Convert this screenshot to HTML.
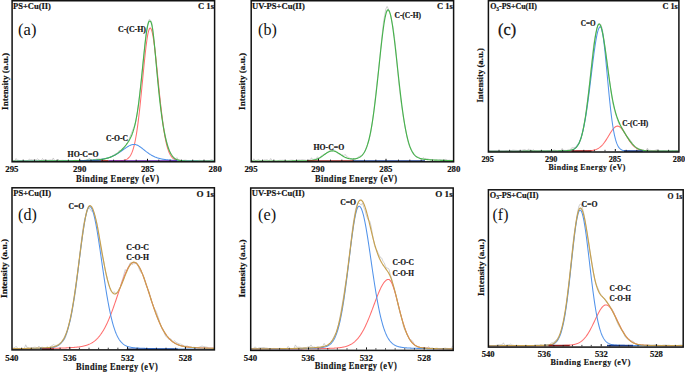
<!DOCTYPE html>
<html><head><meta charset="utf-8"><style>
html,body{margin:0;padding:0;background:#fff;overflow:hidden;width:685px;height:372px;}
svg{display:block;}
text{font-family:"Liberation Serif", serif;fill:#111;}
text[font-weight=bold]{stroke:#111;stroke-width:0.18px;}
</style></head><body>
<svg width="685" height="372" viewBox="0 0 685 372">
<rect width="685" height="372" fill="#fff"/>
<path d="M12.50,160.78 L13.70,160.75 L14.90,160.60 L16.10,158.50 L17.30,160.24 L18.50,160.27 L19.70,160.64 L20.90,160.80 L22.10,160.81 L23.30,160.73 L24.50,160.65 L25.70,160.81 L26.90,160.73 L28.10,160.55 L29.30,159.08 L30.50,159.74 L31.70,159.60 L32.90,160.08 L34.10,159.74 L35.30,159.59 L36.50,159.63 L37.70,158.76 L38.90,160.07 L40.10,160.40 L41.30,160.51 L42.50,158.52 L43.70,159.95 L44.90,159.88 L46.10,160.11 L47.30,160.30 L48.50,160.19 L49.70,159.99 L50.90,159.89 L52.10,160.25 L53.30,157.97 L54.50,160.49 L55.70,160.66 L56.90,160.53 L58.10,159.07 L59.30,160.52 L60.50,160.44 L61.70,160.34 L62.90,160.25 L64.10,160.44 L65.30,160.38 L66.50,160.57 L67.70,160.52 L68.90,160.32 L70.10,160.76 L71.30,160.88 L72.50,160.77 L73.70,160.61 L74.90,160.31 L76.10,160.28 L77.30,160.55 L78.50,160.52 L79.70,160.52 L80.90,160.77 L82.10,160.65 L83.30,160.56 L84.50,160.24 L85.70,160.00 L86.90,159.88 L88.10,159.64 L89.30,158.05 L90.50,159.75 L91.70,160.23 L92.90,160.16 L94.10,159.79 L95.30,159.49 L96.50,159.00 L97.70,158.94 L98.90,158.84 L100.10,158.99 L101.30,159.51 L102.50,159.44 L103.70,159.02 L104.90,158.37 L106.10,158.28 L107.30,158.14 L108.50,157.79 L109.70,157.32 L110.90,156.58 L112.10,156.14 L113.30,155.30 L114.50,154.44 L115.70,153.66 L116.90,153.30 L118.10,153.07 L119.30,150.35 L120.50,151.43 L121.70,149.89 L122.90,148.77 L124.10,147.54 L125.30,146.17 L126.50,144.26 L127.70,142.12 L128.90,139.60 L130.10,136.39 L131.30,133.73 L132.50,130.43 L133.70,127.65 L134.90,124.99 L136.10,119.89 L137.30,113.00 L138.50,104.16 L139.70,93.95 L140.90,83.85 L142.10,72.35 L143.30,60.46 L144.50,49.14 L145.70,36.90 L146.90,29.29 L148.10,22.74 L149.30,19.33 L150.50,20.17 L151.70,22.53 L152.90,30.27 L154.10,41.65 L155.30,54.17 L156.50,67.17 L157.70,79.29 L158.90,90.29 L160.10,100.48 L161.30,110.63 L162.50,118.90 L163.70,127.34 L164.90,133.53 L166.10,139.11 L167.30,144.00 L168.50,147.81 L169.70,151.34 L170.90,153.22 L172.10,155.34 L173.30,157.06 L174.50,158.41 L175.70,159.32 L176.90,157.60 L178.10,159.44 L179.30,159.90 L180.50,160.18 L181.70,160.39 L182.90,160.43 L184.10,160.22 L185.30,160.12 L186.50,160.32 L187.70,160.59 L188.90,160.92 L190.10,161.11 L191.30,160.84 L192.50,160.71 L193.70,160.47 L194.90,160.49 L196.10,160.57 L197.30,160.59 L198.50,160.46 L199.70,160.28 L200.90,160.53 L202.10,160.70 L203.30,160.76 L204.50,160.73 L205.70,160.77 L206.90,160.84 L208.10,160.84 L209.30,160.59 L210.50,160.21 L211.70,159.00 L212.90,160.54" fill="none" stroke="#c4c4c4" stroke-width="0.8" stroke-linejoin="round"/>
<path d="M251.50,160.72 L252.70,160.81 L253.90,158.75 L255.10,160.53 L256.30,160.35 L257.50,159.97 L258.70,159.31 L259.90,160.74 L261.10,161.07 L262.30,160.94 L263.50,160.25 L264.70,159.92 L265.90,160.02 L267.10,159.71 L268.30,160.62 L269.50,160.49 L270.70,158.49 L271.90,160.40 L273.10,160.72 L274.30,161.20 L275.50,161.20 L276.70,161.20 L277.90,160.78 L279.10,160.36 L280.30,160.27 L281.50,160.32 L282.70,160.20 L283.90,160.37 L285.10,160.54 L286.30,160.66 L287.50,160.78 L288.70,160.53 L289.90,160.30 L291.10,160.14 L292.30,160.11 L293.50,160.31 L294.70,160.50 L295.90,160.35 L297.10,160.31 L298.30,160.03 L299.50,159.91 L300.70,160.03 L301.90,159.73 L303.10,159.83 L304.30,159.98 L305.50,160.18 L306.70,160.42 L307.90,160.23 L309.10,159.93 L310.30,159.75 L311.50,157.74 L312.70,159.54 L313.90,159.29 L315.10,159.02 L316.30,158.80 L317.50,156.75 L318.70,158.00 L319.90,157.35 L321.10,156.22 L322.30,155.39 L323.50,154.68 L324.70,153.99 L325.90,153.71 L327.10,152.59 L328.30,151.58 L329.50,151.03 L330.70,150.87 L331.90,151.08 L333.10,150.62 L334.30,149.92 L335.50,151.21 L336.70,152.46 L337.90,153.76 L339.10,153.73 L340.30,154.09 L341.50,154.67 L342.70,154.88 L343.90,155.66 L345.10,154.36 L346.30,156.14 L347.50,156.85 L348.70,157.51 L349.90,158.31 L351.10,158.83 L352.30,159.31 L353.50,158.54 L354.70,159.72 L355.90,159.19 L357.10,157.96 L358.30,156.82 L359.50,156.28 L360.70,155.86 L361.90,155.33 L363.10,154.42 L364.30,152.37 L365.50,149.79 L366.70,146.91 L367.90,143.40 L369.10,139.85 L370.30,134.83 L371.50,128.01 L372.70,120.20 L373.90,110.66 L375.10,99.82 L376.30,89.37 L377.50,78.58 L378.70,68.62 L379.90,57.05 L381.10,44.56 L382.30,33.40 L383.50,22.14 L384.70,15.21 L385.90,8.86 L387.10,6.44 L388.30,8.73 L389.50,12.20 L390.70,15.30 L391.90,21.79 L393.10,27.73 L394.30,36.39 L395.50,46.84 L396.70,58.92 L397.90,73.38 L399.10,85.38 L400.30,95.69 L401.50,104.73 L402.70,112.90 L403.90,120.21 L405.10,126.97 L406.30,133.25 L407.50,139.31 L408.70,144.18 L409.90,147.51 L411.10,149.79 L412.30,151.96 L413.50,154.03 L414.70,155.84 L415.90,156.60 L417.10,156.90 L418.30,157.30 L419.50,157.72 L420.70,158.70 L421.90,158.82 L423.10,157.61 L424.30,158.49 L425.50,158.48 L426.70,158.63 L427.90,158.97 L429.10,159.28 L430.30,159.81 L431.50,160.05 L432.70,160.01 L433.90,159.97 L435.10,160.17 L436.30,160.14 L437.50,159.74 L438.70,159.68 L439.90,159.47 L441.10,159.84 L442.30,160.15 L443.50,160.05 L444.70,160.08 L445.90,159.14 L447.10,160.11 L448.30,160.27 L449.50,160.17 L450.70,160.36 L451.90,160.39" fill="none" stroke="#c4c4c4" stroke-width="0.8" stroke-linejoin="round"/>
<path d="M489.00,150.84 L490.20,150.92 L491.40,150.93 L492.60,151.02 L493.80,150.99 L495.00,150.86 L496.20,150.96 L497.40,150.92 L498.60,151.26 L499.80,151.30 L501.00,151.30 L502.20,151.30 L503.40,151.30 L504.60,151.19 L505.80,150.91 L507.00,150.86 L508.20,150.98 L509.40,150.97 L510.60,150.63 L511.80,150.45 L513.00,150.14 L514.20,150.20 L515.40,150.39 L516.60,150.42 L517.80,150.62 L519.00,150.64 L520.20,150.61 L521.40,150.37 L522.60,150.10 L523.80,149.80 L525.00,149.84 L526.20,150.32 L527.40,150.57 L528.60,148.87 L529.80,150.82 L531.00,150.60 L532.20,150.68 L533.40,149.57 L534.60,150.90 L535.80,151.17 L537.00,151.30 L538.20,151.30 L539.40,151.02 L540.60,150.75 L541.80,150.71 L543.00,150.86 L544.20,151.01 L545.40,151.19 L546.60,150.99 L547.80,150.67 L549.00,150.64 L550.20,150.53 L551.40,150.69 L552.60,150.56 L553.80,150.20 L555.00,150.21 L556.20,150.72 L557.40,151.22 L558.60,151.30 L559.80,150.88 L561.00,150.24 L562.20,148.40 L563.40,150.41 L564.60,150.36 L565.80,150.38 L567.00,150.43 L568.20,149.66 L569.40,150.22 L570.60,149.42 L571.80,147.74 L573.00,147.94 L574.20,147.59 L575.40,147.03 L576.60,146.26 L577.80,143.82 L579.00,143.95 L580.20,141.15 L581.40,137.24 L582.60,132.42 L583.80,124.65 L585.00,119.57 L586.20,110.81 L587.40,100.66 L588.60,91.65 L589.80,80.71 L591.00,68.97 L592.20,58.11 L593.40,47.39 L594.60,38.85 L595.80,33.51 L597.00,28.09 L598.20,23.73 L599.40,23.49 L600.60,24.21 L601.80,27.25 L603.00,32.73 L604.20,41.53 L605.40,49.50 L606.60,58.11 L607.80,67.33 L609.00,76.74 L610.20,85.44 L611.40,93.98 L612.60,101.77 L613.80,107.31 L615.00,111.80 L616.20,115.67 L617.40,119.35 L618.60,123.16 L619.80,125.20 L621.00,126.28 L622.20,128.01 L623.40,129.86 L624.60,132.21 L625.80,134.37 L627.00,136.22 L628.20,137.66 L629.40,139.06 L630.60,140.63 L631.80,142.28 L633.00,144.22 L634.20,145.76 L635.40,147.18 L636.60,148.09 L637.80,148.59 L639.00,149.03 L640.20,149.29 L641.40,149.71 L642.60,149.88 L643.80,150.29 L645.00,150.56 L646.20,150.52 L647.40,148.15 L648.60,150.25 L649.80,150.32 L651.00,150.42 L652.20,150.69 L653.40,150.77 L654.60,150.41 L655.80,150.17 L657.00,149.72 L658.20,149.86 L659.40,150.41 L660.60,150.85 L661.80,151.01 L663.00,150.73 L664.20,150.74 L665.40,150.92 L666.60,151.20 L667.80,151.30 L669.00,151.30 L670.20,151.30 L671.40,151.30 L672.60,150.59 L673.80,151.26 L675.00,151.03 L676.20,150.79 L677.40,150.62" fill="none" stroke="#c4c4c4" stroke-width="0.8" stroke-linejoin="round"/>
<path d="M12.50,348.32 L13.70,347.96 L14.90,347.63 L16.10,346.30 L17.30,347.92 L18.50,348.66 L19.70,348.38 L20.90,349.30 L22.10,349.23 L23.30,348.88 L24.50,348.11 L25.70,344.77 L26.90,347.34 L28.10,347.42 L29.30,348.04 L30.50,348.21 L31.70,347.69 L32.90,347.61 L34.10,347.27 L35.30,347.19 L36.50,347.59 L37.70,347.97 L38.90,346.06 L40.10,347.74 L41.30,347.36 L42.50,347.22 L43.70,347.69 L44.90,348.68 L46.10,349.14 L47.30,346.57 L48.50,348.27 L49.70,347.04 L50.90,346.28 L52.10,345.70 L53.30,344.60 L54.50,345.22 L55.70,345.40 L56.90,345.25 L58.10,344.67 L59.30,343.40 L60.50,342.50 L61.70,341.83 L62.90,341.31 L64.10,340.21 L65.30,337.82 L66.50,334.48 L67.70,330.15 L68.90,325.54 L70.10,321.18 L71.30,315.83 L72.50,309.62 L73.70,302.00 L74.90,295.42 L76.10,286.87 L77.30,276.57 L78.50,266.83 L79.70,255.73 L80.90,244.60 L82.10,235.17 L83.30,226.40 L84.50,220.22 L85.70,215.47 L86.90,210.01 L88.10,208.03 L89.30,208.20 L90.50,209.76 L91.70,211.36 L92.90,210.67 L94.10,213.00 L95.30,217.54 L96.50,221.68 L97.70,227.32 L98.90,236.23 L100.10,242.96 L101.30,251.08 L102.50,256.64 L103.70,261.54 L104.90,268.52 L106.10,274.40 L107.30,278.95 L108.50,284.17 L109.70,287.67 L110.90,291.00 L112.10,292.34 L113.30,292.34 L114.50,291.81 L115.70,294.07 L116.90,293.57 L118.10,291.23 L119.30,288.44 L120.50,286.55 L121.70,281.55 L122.90,278.26 L124.10,273.79 L125.30,269.57 L126.50,271.26 L127.70,268.11 L128.90,265.97 L130.10,262.98 L131.30,262.81 L132.50,264.68 L133.70,263.42 L134.90,263.83 L136.10,262.20 L137.30,264.05 L138.50,267.12 L139.70,270.34 L140.90,272.32 L142.10,273.57 L143.30,275.32 L144.50,279.92 L145.70,284.15 L146.90,287.17 L148.10,289.76 L149.30,292.44 L150.50,297.32 L151.70,302.11 L152.90,304.45 L154.10,307.90 L155.30,309.89 L156.50,312.17 L157.70,315.83 L158.90,319.24 L160.10,323.40 L161.30,327.20 L162.50,329.87 L163.70,331.28 L164.90,334.78 L166.10,336.58 L167.30,337.81 L168.50,338.97 L169.70,339.50 L170.90,338.77 L172.10,341.03 L173.30,341.52 L174.50,340.60 L175.70,342.15 L176.90,342.65 L178.10,343.40 L179.30,343.93 L180.50,344.06 L181.70,344.51 L182.90,345.24 L184.10,345.73 L185.30,346.09 L186.50,346.01 L187.70,346.07 L188.90,346.81 L190.10,346.91 L191.30,347.16 L192.50,347.37 L193.70,347.22 L194.90,347.43 L196.10,347.51 L197.30,347.65 L198.50,347.40 L199.70,346.98 L200.90,346.45 L202.10,346.09 L203.30,346.47 L204.50,346.53 L205.70,346.96 L206.90,347.20 L208.10,347.49 L209.30,347.82 L210.50,347.76 L211.70,347.94 L212.90,347.90" fill="none" stroke="#c4c4c4" stroke-width="0.8" stroke-linejoin="round"/>
<path d="M251.00,348.81 L252.20,348.51 L253.40,348.63 L254.60,347.06 L255.80,347.22 L257.00,348.92 L258.20,348.13 L259.40,347.70 L260.60,347.58 L261.80,347.73 L263.00,347.63 L264.20,347.49 L265.40,347.91 L266.60,347.99 L267.80,348.31 L269.00,348.61 L270.20,348.73 L271.40,348.90 L272.60,348.80 L273.80,348.36 L275.00,348.51 L276.20,348.92 L277.40,348.82 L278.60,348.66 L279.80,348.33 L281.00,348.48 L282.20,349.22 L283.40,349.30 L284.60,349.30 L285.80,349.02 L287.00,348.08 L288.20,346.44 L289.40,347.88 L290.60,348.71 L291.80,348.57 L293.00,348.72 L294.20,347.90 L295.40,344.92 L296.60,347.04 L297.80,347.24 L299.00,347.16 L300.20,347.29 L301.40,347.68 L302.60,347.66 L303.80,347.76 L305.00,347.61 L306.20,347.52 L307.40,347.17 L308.60,346.60 L309.80,346.81 L311.00,344.91 L312.20,346.89 L313.40,347.12 L314.60,347.08 L315.80,347.46 L317.00,347.01 L318.20,346.95 L319.40,347.39 L320.60,347.55 L321.80,347.02 L323.00,345.66 L324.20,343.41 L325.40,345.57 L326.60,346.18 L327.80,345.32 L329.00,344.85 L330.20,343.01 L331.40,341.34 L332.60,339.49 L333.80,337.19 L335.00,334.83 L336.20,332.53 L337.40,328.86 L338.60,324.13 L339.80,318.02 L341.00,311.46 L342.20,304.27 L343.40,297.41 L344.60,289.71 L345.80,282.12 L347.00,276.07 L348.20,266.99 L349.40,256.95 L350.60,246.68 L351.80,234.46 L353.00,224.67 L354.20,217.39 L355.40,210.56 L356.60,205.71 L357.80,203.05 L359.00,203.00 L360.20,204.18 L361.40,204.95 L362.60,202.98 L363.80,207.44 L365.00,210.12 L366.20,215.00 L367.40,218.05 L368.60,220.59 L369.80,221.11 L371.00,225.93 L372.20,232.34 L373.40,239.65 L374.60,245.63 L375.80,248.70 L377.00,250.36 L378.20,253.31 L379.40,255.44 L380.60,257.67 L381.80,258.12 L383.00,261.50 L384.20,262.68 L385.40,266.14 L386.60,268.11 L387.80,268.25 L389.00,269.09 L390.20,274.55 L391.40,277.60 L392.60,284.77 L393.80,287.93 L395.00,291.85 L396.20,295.63 L397.40,301.80 L398.60,307.27 L399.80,311.97 L401.00,315.97 L402.20,320.11 L403.40,325.93 L404.60,329.65 L405.80,331.37 L407.00,334.21 L408.20,336.65 L409.40,339.09 L410.60,339.95 L411.80,340.25 L413.00,341.78 L414.20,344.12 L415.40,345.89 L416.60,346.53 L417.80,346.96 L419.00,347.39 L420.20,348.00 L421.40,348.42 L422.60,348.51 L423.80,348.23 L425.00,348.21 L426.20,347.99 L427.40,347.76 L428.60,346.74 L429.80,347.92 L431.00,348.20 L432.20,347.75 L433.40,348.70 L434.60,348.73 L435.80,348.22 L437.00,348.12 L438.20,348.49 L439.40,348.88 L440.60,349.16 L441.80,348.97 L443.00,348.78 L444.20,348.28 L445.40,348.13 L446.60,348.38 L447.80,348.44 L449.00,348.94 L450.20,349.05 L451.40,348.52 L452.60,345.76" fill="none" stroke="#c4c4c4" stroke-width="0.8" stroke-linejoin="round"/>
<path d="M489.00,345.67 L490.20,345.74 L491.40,345.74 L492.60,345.64 L493.80,345.80 L495.00,345.69 L496.20,345.43 L497.40,345.10 L498.60,344.81 L499.80,344.90 L501.00,344.81 L502.20,344.72 L503.40,342.79 L504.60,345.02 L505.80,345.40 L507.00,345.24 L508.20,344.86 L509.40,344.68 L510.60,344.09 L511.80,345.00 L513.00,345.28 L514.20,345.43 L515.40,345.47 L516.60,345.49 L517.80,345.45 L519.00,345.43 L520.20,345.57 L521.40,345.68 L522.60,345.66 L523.80,345.66 L525.00,345.51 L526.20,345.63 L527.40,345.80 L528.60,345.80 L529.80,345.80 L531.00,345.76 L532.20,345.78 L533.40,345.73 L534.60,345.19 L535.80,345.10 L537.00,345.00 L538.20,344.98 L539.40,345.07 L540.60,344.62 L541.80,344.98 L543.00,345.46 L544.20,345.29 L545.40,345.16 L546.60,344.62 L547.80,344.89 L549.00,344.98 L550.20,344.13 L551.40,342.80 L552.60,342.58 L553.80,342.25 L555.00,341.28 L556.20,339.85 L557.40,338.83 L558.60,336.76 L559.80,334.64 L561.00,330.65 L562.20,326.73 L563.40,322.62 L564.60,315.91 L565.80,308.72 L567.00,299.49 L568.20,289.69 L569.40,279.51 L570.60,267.78 L571.80,255.22 L573.00,243.40 L574.20,233.94 L575.40,226.53 L576.60,218.13 L577.80,210.98 L579.00,206.03 L580.20,204.01 L581.40,204.43 L582.60,208.57 L583.80,213.37 L585.00,221.00 L586.20,228.14 L587.40,235.66 L588.60,242.26 L589.80,250.20 L591.00,256.92 L592.20,264.69 L593.40,272.68 L594.60,278.85 L595.80,283.25 L597.00,286.23 L598.20,288.77 L599.40,291.78 L600.60,294.47 L601.80,295.56 L603.00,297.28 L604.20,298.76 L605.40,300.25 L606.60,302.47 L607.80,303.62 L609.00,304.97 L610.20,306.91 L611.40,308.18 L612.60,310.27 L613.80,312.60 L615.00,315.87 L616.20,319.83 L617.40,322.74 L618.60,325.54 L619.80,327.28 L621.00,329.15 L622.20,330.79 L623.40,331.19 L624.60,335.80 L625.80,337.61 L627.00,338.37 L628.20,339.41 L629.40,339.13 L630.60,340.81 L631.80,340.97 L633.00,341.30 L634.20,342.36 L635.40,343.53 L636.60,344.76 L637.80,345.20 L639.00,344.69 L640.20,345.42 L641.40,345.14 L642.60,344.79 L643.80,344.97 L645.00,345.11 L646.20,345.13 L647.40,345.09 L648.60,344.90 L649.80,344.82 L651.00,345.05 L652.20,345.00 L653.40,344.81 L654.60,344.60 L655.80,344.79 L657.00,344.90 L658.20,345.18 L659.40,345.36 L660.60,345.35 L661.80,345.45 L663.00,345.21 L664.20,345.05 L665.40,345.20 L666.60,345.40 L667.80,345.20 L669.00,345.19 L670.20,345.38 L671.40,345.74 L672.60,345.79 L673.80,345.55 L675.00,345.39 L676.20,345.54 L677.40,345.47 L678.60,345.31 L679.80,345.21 L681.00,344.99 L682.20,345.10" fill="none" stroke="#c4c4c4" stroke-width="0.8" stroke-linejoin="round"/>
<path d="M12.50,161.27 L13.00,161.27 L13.50,161.27 L14.00,161.27 L14.50,161.27 L15.00,161.27 L15.50,161.27 L16.00,161.27 L16.50,161.27 L17.00,161.27 L17.50,161.27 L18.00,161.27 L18.50,161.27 L19.00,161.27 L19.50,161.27 L20.00,161.27 L20.50,161.27 L21.00,161.27 L21.50,161.27 L22.00,161.27 L22.50,161.27 L23.00,161.27 L23.50,161.27 L24.00,161.27 L24.50,161.27 L25.00,161.27 L25.50,161.27 L26.00,161.26 L26.50,161.26 L27.00,161.26 L27.50,161.26 L28.00,161.26 L28.50,161.26 L29.00,161.26 L29.50,161.26 L30.00,161.26 L30.50,161.26 L31.00,161.26 L31.50,161.26 L32.00,161.26 L32.50,161.26 L33.00,161.26 L33.50,161.26 L34.00,161.26 L34.50,161.26 L35.00,161.26 L35.50,161.26 L36.00,161.26 L36.50,161.26 L37.00,161.26 L37.50,161.26 L38.00,161.26 L38.50,161.26 L39.00,161.26 L39.50,161.26 L40.00,161.26 L40.50,161.26 L41.00,161.25 L41.50,161.25 L42.00,161.25 L42.50,161.25 L43.00,161.25 L43.50,161.25 L44.00,161.25 L44.50,161.25 L45.00,161.25 L45.50,161.25 L46.00,161.25 L46.50,161.25 L47.00,161.25 L47.50,161.25 L48.00,161.25 L48.50,161.25 L49.00,161.25 L49.50,161.25 L50.00,161.25 L50.50,161.25 L51.00,161.25 L51.50,161.24 L52.00,161.24 L52.50,161.24 L53.00,161.24 L53.50,161.24 L54.00,161.24 L54.50,161.24 L55.00,161.24 L55.50,161.24 L56.00,161.24 L56.50,161.24 L57.00,161.24 L57.50,161.24 L58.00,161.24 L58.50,161.24 L59.00,161.24 L59.50,161.23 L60.00,161.23 L60.50,161.23 L61.00,161.23 L61.50,161.23 L62.00,161.23 L62.50,161.23 L63.00,161.23 L63.50,161.23 L64.00,161.23 L64.50,161.23 L65.00,161.23 L65.50,161.23 L66.00,161.22 L66.50,161.22 L67.00,161.22 L67.50,161.22 L68.00,161.22 L68.50,161.22 L69.00,161.22 L69.50,161.22 L70.00,161.22 L70.50,161.22 L71.00,161.21 L71.50,161.21 L72.00,161.21 L72.50,161.21 L73.00,161.21 L73.50,161.21 L74.00,161.21 L74.50,161.21 L75.00,161.21 L75.50,161.20 L76.00,161.20 L76.50,161.20 L77.00,161.20 L77.50,161.20 L78.00,161.20 L78.50,161.20 L79.00,161.19 L79.50,161.19 L80.00,161.19 L80.50,161.19 L81.00,161.19 L81.50,161.19 L82.00,161.19 L82.50,161.18 L83.00,161.18 L83.50,161.18 L84.00,161.18 L84.50,161.18 L85.00,161.17 L85.50,161.17 L86.00,161.17 L86.50,161.17 L87.00,161.17 L87.50,161.16 L88.00,161.16 L88.50,161.16 L89.00,161.16 L89.50,161.16 L90.00,161.15 L90.50,161.15 L91.00,161.15 L91.50,161.15 L92.00,161.14 L92.50,161.14 L93.00,161.14 L93.50,161.14 L94.00,161.13 L94.50,161.13 L95.00,161.13 L95.50,161.12 L96.00,161.12 L96.50,161.12 L97.00,161.11 L97.50,161.11 L98.00,161.11 L98.50,161.10 L99.00,161.10 L99.50,161.10 L100.00,161.09 L100.50,161.09 L101.00,161.08 L101.50,161.08 L102.00,161.07 L102.50,161.07 L103.00,161.06 L103.50,161.06 L104.00,161.05 L104.50,161.05 L105.00,161.04 L105.50,161.04 L106.00,161.03 L106.50,161.03 L107.00,161.02 L107.50,161.01 L108.00,161.01 L108.50,161.00 L109.00,160.99 L109.50,160.99 L110.00,160.98 L110.50,160.97 L111.00,160.96 L111.50,160.96 L112.00,160.95 L112.50,160.94 L113.00,160.93 L113.50,160.92 L114.00,160.91 L114.50,160.90 L115.00,160.88 L115.50,160.87 L116.00,160.86 L116.50,160.85 L117.00,160.83 L117.50,160.81 L118.00,160.79 L118.50,160.77 L119.00,160.75 L119.50,160.73 L120.00,160.70 L120.50,160.67 L121.00,160.63 L121.50,160.58 L122.00,160.53 L122.50,160.47 L123.00,160.40 L123.50,160.32 L124.00,160.22 L124.50,160.10 L125.00,159.97 L125.50,159.80 L126.00,159.61 L126.50,159.38 L127.00,159.11 L127.50,158.80 L128.00,158.43 L128.50,158.00 L129.00,157.49 L129.50,156.91 L130.00,156.23 L130.50,155.45 L131.00,154.56 L131.50,153.54 L132.00,152.38 L132.50,151.07 L133.00,149.59 L133.50,147.93 L134.00,146.08 L134.50,144.03 L135.00,141.75 L135.50,139.25 L136.00,136.52 L136.50,133.54 L137.00,130.32 L137.50,126.86 L138.00,123.14 L138.50,119.19 L139.00,115.01 L139.50,110.60 L140.00,106.00 L140.50,101.22 L141.00,96.28 L141.50,91.22 L142.00,86.06 L142.50,80.86 L143.00,75.64 L143.50,70.46 L144.00,65.36 L144.50,60.39 L145.00,55.60 L145.50,51.05 L146.00,46.77 L146.50,42.83 L147.00,39.27 L147.50,36.14 L148.00,33.47 L148.50,31.30 L149.00,29.67 L149.50,28.59 L150.00,28.08 L150.50,28.14 L151.00,28.74 L151.50,29.87 L152.00,31.50 L152.50,33.63 L153.00,36.22 L153.50,39.25 L154.00,42.66 L154.50,46.44 L155.00,50.52 L155.50,54.87 L156.00,59.45 L156.50,64.20 L157.00,69.08 L157.50,74.06 L158.00,79.07 L158.50,84.09 L159.00,89.07 L159.50,93.99 L160.00,98.80 L160.50,103.49 L161.00,108.02 L161.50,112.37 L162.00,116.53 L162.50,120.49 L163.00,124.22 L163.50,127.73 L164.00,131.02 L164.50,134.07 L165.00,136.90 L165.50,139.51 L166.00,141.90 L166.50,144.07 L167.00,146.05 L167.50,147.84 L168.00,149.45 L168.50,150.89 L169.00,152.18 L169.50,153.32 L170.00,154.33 L170.50,155.22 L171.00,156.00 L171.50,156.68 L172.00,157.27 L172.50,157.79 L173.00,158.24 L173.50,158.62 L174.00,158.95 L174.50,159.23 L175.00,159.47 L175.50,159.68 L176.00,159.86 L176.50,160.01 L177.00,160.13 L177.50,160.24 L178.00,160.33 L178.50,160.41 L179.00,160.48 L179.50,160.54 L180.00,160.58 L180.50,160.63 L181.00,160.66 L181.50,160.70 L182.00,160.72 L182.50,160.75 L183.00,160.77 L183.50,160.79 L184.00,160.81 L184.50,160.82 L185.00,160.84 L185.50,160.85 L186.00,160.87 L186.50,160.88 L187.00,160.89 L187.50,160.90 L188.00,160.91 L188.50,160.92 L189.00,160.93 L189.50,160.94 L190.00,160.95 L190.50,160.96 L191.00,160.97 L191.50,160.97 L192.00,160.98 L192.50,160.99 L193.00,160.99 L193.50,161.00 L194.00,161.01 L194.50,161.01 L195.00,161.02 L195.50,161.03 L196.00,161.03 L196.50,161.04 L197.00,161.04 L197.50,161.05 L198.00,161.05 L198.50,161.06 L199.00,161.06 L199.50,161.07 L200.00,161.07 L200.50,161.08 L201.00,161.08 L201.50,161.08 L202.00,161.09 L202.50,161.09 L203.00,161.10 L203.50,161.10 L204.00,161.10 L204.50,161.11 L205.00,161.11 L205.50,161.11 L206.00,161.12 L206.50,161.12 L207.00,161.12 L207.50,161.13 L208.00,161.13 L208.50,161.13 L209.00,161.13 L209.50,161.14 L210.00,161.14 L210.50,161.14 L211.00,161.15 L211.50,161.15 L212.00,161.15 L212.50,161.15 L213.00,161.15 L213.50,161.16 L214.00,161.16" fill="none" stroke="#ff6e6e" stroke-width="1.05" stroke-linejoin="round"/>
<path d="M12.50,161.16 L13.00,161.16 L13.50,161.15 L14.00,161.15 L14.50,161.15 L15.00,161.15 L15.50,161.15 L16.00,161.15 L16.50,161.15 L17.00,161.15 L17.50,161.14 L18.00,161.14 L18.50,161.14 L19.00,161.14 L19.50,161.14 L20.00,161.14 L20.50,161.14 L21.00,161.13 L21.50,161.13 L22.00,161.13 L22.50,161.13 L23.00,161.13 L23.50,161.13 L24.00,161.13 L24.50,161.12 L25.00,161.12 L25.50,161.12 L26.00,161.12 L26.50,161.12 L27.00,161.12 L27.50,161.11 L28.00,161.11 L28.50,161.11 L29.00,161.11 L29.50,161.11 L30.00,161.11 L30.50,161.10 L31.00,161.10 L31.50,161.10 L32.00,161.10 L32.50,161.10 L33.00,161.09 L33.50,161.09 L34.00,161.09 L34.50,161.09 L35.00,161.09 L35.50,161.08 L36.00,161.08 L36.50,161.08 L37.00,161.08 L37.50,161.08 L38.00,161.07 L38.50,161.07 L39.00,161.07 L39.50,161.07 L40.00,161.06 L40.50,161.06 L41.00,161.06 L41.50,161.06 L42.00,161.05 L42.50,161.05 L43.00,161.05 L43.50,161.05 L44.00,161.04 L44.50,161.04 L45.00,161.04 L45.50,161.03 L46.00,161.03 L46.50,161.03 L47.00,161.02 L47.50,161.02 L48.00,161.02 L48.50,161.02 L49.00,161.01 L49.50,161.01 L50.00,161.01 L50.50,161.00 L51.00,161.00 L51.50,161.00 L52.00,160.99 L52.50,160.99 L53.00,160.98 L53.50,160.98 L54.00,160.98 L54.50,160.97 L55.00,160.97 L55.50,160.96 L56.00,160.96 L56.50,160.96 L57.00,160.95 L57.50,160.95 L58.00,160.94 L58.50,160.94 L59.00,160.93 L59.50,160.93 L60.00,160.92 L60.50,160.92 L61.00,160.91 L61.50,160.91 L62.00,160.90 L62.50,160.90 L63.00,160.89 L63.50,160.89 L64.00,160.88 L64.50,160.88 L65.00,160.87 L65.50,160.86 L66.00,160.86 L66.50,160.85 L67.00,160.85 L67.50,160.84 L68.00,160.83 L68.50,160.83 L69.00,160.82 L69.50,160.81 L70.00,160.80 L70.50,160.80 L71.00,160.79 L71.50,160.78 L72.00,160.77 L72.50,160.77 L73.00,160.76 L73.50,160.75 L74.00,160.74 L74.50,160.73 L75.00,160.72 L75.50,160.71 L76.00,160.70 L76.50,160.69 L77.00,160.68 L77.50,160.67 L78.00,160.66 L78.50,160.65 L79.00,160.64 L79.50,160.63 L80.00,160.62 L80.50,160.61 L81.00,160.59 L81.50,160.58 L82.00,160.57 L82.50,160.55 L83.00,160.54 L83.50,160.53 L84.00,160.51 L84.50,160.50 L85.00,160.48 L85.50,160.46 L86.00,160.45 L86.50,160.43 L87.00,160.41 L87.50,160.39 L88.00,160.37 L88.50,160.35 L89.00,160.33 L89.50,160.31 L90.00,160.29 L90.50,160.26 L91.00,160.24 L91.50,160.21 L92.00,160.18 L92.50,160.16 L93.00,160.13 L93.50,160.10 L94.00,160.06 L94.50,160.03 L95.00,159.99 L95.50,159.95 L96.00,159.91 L96.50,159.87 L97.00,159.83 L97.50,159.78 L98.00,159.73 L98.50,159.68 L99.00,159.62 L99.50,159.56 L100.00,159.50 L100.50,159.44 L101.00,159.37 L101.50,159.30 L102.00,159.22 L102.50,159.14 L103.00,159.05 L103.50,158.96 L104.00,158.87 L104.50,158.77 L105.00,158.66 L105.50,158.55 L106.00,158.43 L106.50,158.31 L107.00,158.18 L107.50,158.04 L108.00,157.89 L108.50,157.74 L109.00,157.59 L109.50,157.42 L110.00,157.24 L110.50,157.06 L111.00,156.87 L111.50,156.67 L112.00,156.47 L112.50,156.25 L113.00,156.03 L113.50,155.80 L114.00,155.55 L114.50,155.30 L115.00,155.05 L115.50,154.78 L116.00,154.50 L116.50,154.22 L117.00,153.92 L117.50,153.62 L118.00,153.31 L118.50,153.00 L119.00,152.67 L119.50,152.34 L120.00,152.01 L120.50,151.66 L121.00,151.32 L121.50,150.97 L122.00,150.61 L122.50,150.25 L123.00,149.89 L123.50,149.53 L124.00,149.17 L124.50,148.81 L125.00,148.46 L125.50,148.10 L126.00,147.76 L126.50,147.42 L127.00,147.09 L127.50,146.77 L128.00,146.47 L128.50,146.18 L129.00,145.90 L129.50,145.64 L130.00,145.41 L130.50,145.20 L131.00,145.01 L131.50,144.84 L132.00,144.71 L132.50,144.60 L133.00,144.52 L133.50,144.47 L134.00,144.45 L134.50,144.46 L135.00,144.52 L135.50,144.60 L136.00,144.73 L136.50,144.89 L137.00,145.08 L137.50,145.30 L138.00,145.55 L138.50,145.83 L139.00,146.13 L139.50,146.45 L140.00,146.79 L140.50,147.14 L141.00,147.51 L141.50,147.89 L142.00,148.28 L142.50,148.67 L143.00,149.07 L143.50,149.46 L144.00,149.86 L144.50,150.26 L145.00,150.66 L145.50,151.05 L146.00,151.44 L146.50,151.83 L147.00,152.20 L147.50,152.57 L148.00,152.93 L148.50,153.28 L149.00,153.63 L149.50,153.96 L150.00,154.28 L150.50,154.60 L151.00,154.90 L151.50,155.19 L152.00,155.47 L152.50,155.74 L153.00,156.00 L153.50,156.25 L154.00,156.49 L154.50,156.72 L155.00,156.94 L155.50,157.14 L156.00,157.34 L156.50,157.53 L157.00,157.71 L157.50,157.88 L158.00,158.04 L158.50,158.19 L159.00,158.33 L159.50,158.47 L160.00,158.60 L160.50,158.72 L161.00,158.83 L161.50,158.94 L162.00,159.04 L162.50,159.14 L163.00,159.22 L163.50,159.31 L164.00,159.39 L164.50,159.46 L165.00,159.53 L165.50,159.60 L166.00,159.66 L166.50,159.72 L167.00,159.78 L167.50,159.83 L168.00,159.88 L168.50,159.92 L169.00,159.97 L169.50,160.01 L170.00,160.05 L170.50,160.09 L171.00,160.12 L171.50,160.15 L172.00,160.19 L172.50,160.22 L173.00,160.24 L173.50,160.27 L174.00,160.30 L174.50,160.32 L175.00,160.35 L175.50,160.37 L176.00,160.39 L176.50,160.41 L177.00,160.43 L177.50,160.45 L178.00,160.47 L178.50,160.49 L179.00,160.50 L179.50,160.52 L180.00,160.54 L180.50,160.55 L181.00,160.57 L181.50,160.58 L182.00,160.60 L182.50,160.61 L183.00,160.62 L183.50,160.64 L184.00,160.65 L184.50,160.66 L185.00,160.67 L185.50,160.68 L186.00,160.69 L186.50,160.71 L187.00,160.72 L187.50,160.73 L188.00,160.74 L188.50,160.75 L189.00,160.76 L189.50,160.76 L190.00,160.77 L190.50,160.78 L191.00,160.79 L191.50,160.80 L192.00,160.81 L192.50,160.82 L193.00,160.82 L193.50,160.83 L194.00,160.84 L194.50,160.85 L195.00,160.85 L195.50,160.86 L196.00,160.87 L196.50,160.87 L197.00,160.88 L197.50,160.89 L198.00,160.89 L198.50,160.90 L199.00,160.90 L199.50,160.91 L200.00,160.92 L200.50,160.92 L201.00,160.93 L201.50,160.93 L202.00,160.94 L202.50,160.94 L203.00,160.95 L203.50,160.95 L204.00,160.96 L204.50,160.96 L205.00,160.97 L205.50,160.97 L206.00,160.97 L206.50,160.98 L207.00,160.98 L207.50,160.99 L208.00,160.99 L208.50,161.00 L209.00,161.00 L209.50,161.00 L210.00,161.01 L210.50,161.01 L211.00,161.01 L211.50,161.02 L212.00,161.02 L212.50,161.02 L213.00,161.03 L213.50,161.03 L214.00,161.03" fill="none" stroke="#5293ea" stroke-width="1.05" stroke-linejoin="round"/>
<path d="M12.50,161.03 L13.00,161.03 L13.50,161.03 L14.00,161.03 L14.50,161.03 L15.00,161.03 L15.50,161.02 L16.00,161.02 L16.50,161.02 L17.00,161.02 L17.50,161.02 L18.00,161.02 L18.50,161.02 L19.00,161.02 L19.50,161.01 L20.00,161.01 L20.50,161.01 L21.00,161.01 L21.50,161.01 L22.00,161.01 L22.50,161.01 L23.00,161.00 L23.50,161.00 L24.00,161.00 L24.50,161.00 L25.00,161.00 L25.50,161.00 L26.00,160.99 L26.50,160.99 L27.00,160.99 L27.50,160.99 L28.00,160.99 L28.50,160.99 L29.00,160.98 L29.50,160.98 L30.00,160.98 L30.50,160.98 L31.00,160.98 L31.50,160.98 L32.00,160.97 L32.50,160.97 L33.00,160.97 L33.50,160.97 L34.00,160.97 L34.50,160.96 L35.00,160.96 L35.50,160.96 L36.00,160.96 L36.50,160.96 L37.00,160.95 L37.50,160.95 L38.00,160.95 L38.50,160.95 L39.00,160.95 L39.50,160.94 L40.00,160.94 L40.50,160.94 L41.00,160.94 L41.50,160.93 L42.00,160.93 L42.50,160.93 L43.00,160.93 L43.50,160.92 L44.00,160.92 L44.50,160.92 L45.00,160.92 L45.50,160.91 L46.00,160.91 L46.50,160.91 L47.00,160.91 L47.50,160.90 L48.00,160.90 L48.50,160.90 L49.00,160.90 L49.50,160.89 L50.00,160.89 L50.50,160.89 L51.00,160.88 L51.50,160.88 L52.00,160.88 L52.50,160.87 L53.00,160.87 L53.50,160.87 L54.00,160.86 L54.50,160.86 L55.00,160.86 L55.50,160.85 L56.00,160.85 L56.50,160.85 L57.00,160.84 L57.50,160.84 L58.00,160.84 L58.50,160.83 L59.00,160.83 L59.50,160.83 L60.00,160.82 L60.50,160.82 L61.00,160.81 L61.50,160.81 L62.00,160.80 L62.50,160.80 L63.00,160.80 L63.50,160.79 L64.00,160.79 L64.50,160.78 L65.00,160.78 L65.50,160.77 L66.00,160.77 L66.50,160.76 L67.00,160.76 L67.50,160.75 L68.00,160.75 L68.50,160.74 L69.00,160.74 L69.50,160.73 L70.00,160.73 L70.50,160.72 L71.00,160.72 L71.50,160.71 L72.00,160.70 L72.50,160.70 L73.00,160.69 L73.50,160.69 L74.00,160.68 L74.50,160.67 L75.00,160.67 L75.50,160.66 L76.00,160.65 L76.50,160.64 L77.00,160.64 L77.50,160.63 L78.00,160.62 L78.50,160.61 L79.00,160.60 L79.50,160.60 L80.00,160.59 L80.50,160.58 L81.00,160.57 L81.50,160.56 L82.00,160.55 L82.50,160.54 L83.00,160.53 L83.50,160.52 L84.00,160.51 L84.50,160.49 L85.00,160.48 L85.50,160.47 L86.00,160.45 L86.50,160.44 L87.00,160.43 L87.50,160.41 L88.00,160.39 L88.50,160.38 L89.00,160.36 L89.50,160.34 L90.00,160.32 L90.50,160.30 L91.00,160.28 L91.50,160.26 L92.00,160.23 L92.50,160.21 L93.00,160.18 L93.50,160.15 L94.00,160.12 L94.50,160.09 L95.00,160.06 L95.50,160.03 L96.00,159.99 L96.50,159.95 L97.00,159.91 L97.50,159.86 L98.00,159.82 L98.50,159.77 L99.00,159.71 L99.50,159.66 L100.00,159.60 L100.50,159.54 L101.00,159.47 L101.50,159.40 L102.00,159.33 L102.50,159.25 L103.00,159.16 L103.50,159.07 L104.00,158.98 L104.50,158.88 L105.00,158.77 L105.50,158.66 L106.00,158.55 L106.50,158.42 L107.00,158.29 L107.50,158.15 L108.00,158.01 L108.50,157.85 L109.00,157.69 L109.50,157.52 L110.00,157.34 L110.50,157.15 L111.00,156.95 L111.50,156.74 L112.00,156.52 L112.50,156.29 L113.00,156.05 L113.50,155.80 L114.00,155.54 L114.50,155.26 L115.00,154.98 L115.50,154.68 L116.00,154.36 L116.50,154.04 L117.00,153.70 L117.50,153.35 L118.00,152.98 L118.50,152.60 L119.00,152.20 L119.50,151.79 L120.00,151.37 L120.50,150.93 L121.00,150.47 L121.50,150.01 L122.00,149.52 L122.50,149.02 L123.00,148.50 L123.50,147.97 L124.00,147.41 L124.50,146.84 L125.00,146.25 L125.50,145.64 L126.00,145.01 L126.50,144.35 L127.00,143.67 L127.50,142.96 L128.00,142.22 L128.50,141.44 L129.00,140.62 L129.50,139.75 L130.00,138.83 L130.50,137.85 L131.00,136.80 L131.50,135.67 L132.00,134.45 L132.50,133.13 L133.00,131.69 L133.50,130.12 L134.00,128.41 L134.50,126.54 L135.00,124.50 L135.50,122.28 L136.00,119.85 L136.50,117.21 L137.00,114.34 L137.50,111.24 L138.00,107.90 L138.50,104.32 L139.00,100.51 L139.50,96.46 L140.00,92.19 L140.50,87.71 L141.00,83.06 L141.50,78.27 L142.00,73.35 L142.50,68.37 L143.00,63.36 L143.50,58.38 L144.00,53.48 L144.50,48.72 L145.00,44.16 L145.50,39.86 L146.00,35.87 L146.50,32.27 L147.00,29.09 L147.50,26.39 L148.00,24.21 L148.50,22.58 L149.00,21.53 L149.50,21.07 L150.00,21.10 L150.50,21.45 L151.00,22.14 L151.50,23.51 L152.00,25.65 L152.50,28.51 L153.00,32.01 L153.50,36.06 L154.00,40.58 L154.50,45.47 L155.00,50.64 L155.50,56.00 L156.00,61.47 L156.50,66.97 L157.00,72.46 L157.50,77.86 L158.00,83.14 L158.50,88.25 L159.00,93.18 L159.50,97.90 L160.00,102.40 L160.50,106.68 L161.00,110.73 L161.50,114.55 L162.00,118.15 L162.50,121.54 L163.00,124.73 L163.50,127.71 L164.00,130.51 L164.50,133.13 L165.00,135.57 L165.50,137.85 L166.00,139.97 L166.50,141.94 L167.00,143.76 L167.50,145.45 L168.00,147.01 L168.50,148.44 L169.00,149.76 L169.50,150.96 L170.00,152.06 L170.50,153.06 L171.00,153.96 L171.50,154.78 L172.00,155.52 L172.50,156.18 L173.00,156.77 L173.50,157.30 L174.00,157.78 L174.50,158.19 L175.00,158.56 L175.50,158.89 L176.00,159.18 L176.50,159.43 L177.00,159.65 L177.50,159.84 L178.00,160.01 L178.50,160.16 L179.00,160.28 L179.50,160.39 L180.00,160.49 L180.50,160.57 L181.00,160.64 L181.50,160.70 L182.00,160.75 L182.50,160.79 L183.00,160.83 L183.50,160.86 L184.00,160.89 L184.50,160.92 L185.00,160.94 L185.50,160.95 L186.00,160.97 L186.50,160.98 L187.00,160.99 L187.50,161.00 L188.00,161.01 L188.50,161.02 L189.00,161.03 L189.50,161.03 L190.00,161.04 L190.50,161.05 L191.00,161.05 L191.50,161.06 L192.00,161.06 L192.50,161.06 L193.00,161.07 L193.50,161.07 L194.00,161.07 L194.50,161.08 L195.00,161.08 L195.50,161.08 L196.00,161.08 L196.50,161.09 L197.00,161.09 L197.50,161.09 L198.00,161.09 L198.50,161.10 L199.00,161.10 L199.50,161.10 L200.00,161.10 L200.50,161.10 L201.00,161.11 L201.50,161.11 L202.00,161.11 L202.50,161.11 L203.00,161.11 L203.50,161.12 L204.00,161.12 L204.50,161.12 L205.00,161.12 L205.50,161.12 L206.00,161.12 L206.50,161.12 L207.00,161.13 L207.50,161.13 L208.00,161.13 L208.50,161.13 L209.00,161.13 L209.50,161.13 L210.00,161.13 L210.50,161.13 L211.00,161.13 L211.50,161.14 L212.00,161.14 L212.50,161.14 L213.00,161.14 L213.50,161.14 L214.00,161.14" fill="none" stroke="#46b24c" stroke-width="1.15" stroke-linejoin="round"/>
<path d="M251.50,161.07 L252.00,161.07 L252.50,161.07 L253.00,161.07 L253.50,161.07 L254.00,161.07 L254.50,161.07 L255.00,161.06 L255.50,161.06 L256.00,161.06 L256.50,161.06 L257.00,161.06 L257.50,161.06 L258.00,161.06 L258.50,161.06 L259.00,161.06 L259.50,161.06 L260.00,161.05 L260.50,161.05 L261.00,161.05 L261.50,161.05 L262.00,161.05 L262.50,161.05 L263.00,161.05 L263.50,161.05 L264.00,161.04 L264.50,161.04 L265.00,161.04 L265.50,161.04 L266.00,161.04 L266.50,161.04 L267.00,161.04 L267.50,161.04 L268.00,161.03 L268.50,161.03 L269.00,161.03 L269.50,161.03 L270.00,161.03 L270.50,161.03 L271.00,161.03 L271.50,161.02 L272.00,161.02 L272.50,161.02 L273.00,161.02 L273.50,161.02 L274.00,161.02 L274.50,161.02 L275.00,161.01 L275.50,161.01 L276.00,161.01 L276.50,161.01 L277.00,161.01 L277.50,161.00 L278.00,161.00 L278.50,161.00 L279.00,161.00 L279.50,161.00 L280.00,161.00 L280.50,160.99 L281.00,160.99 L281.50,160.99 L282.00,160.99 L282.50,160.99 L283.00,160.98 L283.50,160.98 L284.00,160.98 L284.50,160.98 L285.00,160.98 L285.50,160.97 L286.00,160.97 L286.50,160.97 L287.00,160.97 L287.50,160.96 L288.00,160.96 L288.50,160.96 L289.00,160.96 L289.50,160.96 L290.00,160.95 L290.50,160.95 L291.00,160.95 L291.50,160.95 L292.00,160.94 L292.50,160.94 L293.00,160.94 L293.50,160.93 L294.00,160.93 L294.50,160.93 L295.00,160.93 L295.50,160.92 L296.00,160.92 L296.50,160.92 L297.00,160.91 L297.50,160.91 L298.00,160.91 L298.50,160.90 L299.00,160.90 L299.50,160.90 L300.00,160.89 L300.50,160.89 L301.00,160.88 L301.50,160.88 L302.00,160.87 L302.50,160.87 L303.00,160.86 L303.50,160.85 L304.00,160.84 L304.50,160.83 L305.00,160.82 L305.50,160.81 L306.00,160.80 L306.50,160.78 L307.00,160.77 L307.50,160.75 L308.00,160.72 L308.50,160.70 L309.00,160.67 L309.50,160.63 L310.00,160.59 L310.50,160.55 L311.00,160.50 L311.50,160.44 L312.00,160.37 L312.50,160.30 L313.00,160.22 L313.50,160.12 L314.00,160.02 L314.50,159.90 L315.00,159.77 L315.50,159.63 L316.00,159.47 L316.50,159.29 L317.00,159.11 L317.50,158.90 L318.00,158.68 L318.50,158.44 L319.00,158.19 L319.50,157.92 L320.00,157.63 L320.50,157.33 L321.00,157.02 L321.50,156.69 L322.00,156.35 L322.50,155.99 L323.00,155.64 L323.50,155.27 L324.00,154.90 L324.50,154.53 L325.00,154.17 L325.50,153.80 L326.00,153.45 L326.50,153.10 L327.00,152.77 L327.50,152.46 L328.00,152.17 L328.50,151.90 L329.00,151.66 L329.50,151.44 L330.00,151.26 L330.50,151.11 L331.00,150.99 L331.50,150.91 L332.00,150.87 L332.50,150.86 L333.00,150.88 L333.50,150.95 L334.00,151.04 L334.50,151.18 L335.00,151.34 L335.50,151.54 L336.00,151.76 L336.50,152.00 L337.00,152.27 L337.50,152.56 L338.00,152.87 L338.50,153.19 L339.00,153.52 L339.50,153.85 L340.00,154.19 L340.50,154.53 L341.00,154.87 L341.50,155.21 L342.00,155.53 L342.50,155.85 L343.00,156.16 L343.50,156.45 L344.00,156.74 L344.50,157.00 L345.00,157.25 L345.50,157.48 L346.00,157.70 L346.50,157.89 L347.00,158.07 L347.50,158.23 L348.00,158.38 L348.50,158.51 L349.00,158.62 L349.50,158.71 L350.00,158.79 L350.50,158.85 L351.00,158.90 L351.50,158.93 L352.00,158.95 L352.50,158.95 L353.00,158.94 L353.50,158.92 L354.00,158.88 L354.50,158.83 L355.00,158.77 L355.50,158.69 L356.00,158.59 L356.50,158.47 L357.00,158.33 L357.50,158.18 L358.00,158.00 L358.50,157.79 L359.00,157.56 L359.50,157.29 L360.00,156.99 L360.50,156.65 L361.00,156.27 L361.50,155.83 L362.00,155.35 L362.50,154.81 L363.00,154.20 L363.50,153.52 L364.00,152.76 L364.50,151.92 L365.00,150.99 L365.50,149.96 L366.00,148.82 L366.50,147.57 L367.00,146.19 L367.50,144.69 L368.00,143.04 L368.50,141.26 L369.00,139.32 L369.50,137.22 L370.00,134.95 L370.50,132.52 L371.00,129.91 L371.50,127.12 L372.00,124.15 L372.50,121.01 L373.00,117.68 L373.50,114.18 L374.00,110.50 L374.50,106.65 L375.00,102.65 L375.50,98.49 L376.00,94.20 L376.50,89.78 L377.00,85.25 L377.50,80.63 L378.00,75.94 L378.50,71.20 L379.00,66.44 L379.50,61.68 L380.00,56.94 L380.50,52.26 L381.00,47.67 L381.50,43.20 L382.00,38.88 L382.50,34.73 L383.00,30.81 L383.50,27.13 L384.00,23.73 L384.50,20.65 L385.00,17.90 L385.50,15.52 L386.00,13.53 L386.50,11.95 L387.00,10.81 L387.50,10.10 L388.00,9.85 L388.50,10.04 L389.00,10.64 L389.50,11.67 L390.00,13.10 L390.50,14.91 L391.00,17.10 L391.50,19.64 L392.00,22.51 L392.50,25.68 L393.00,29.12 L393.50,32.81 L394.00,36.71 L394.50,40.80 L395.00,45.05 L395.50,49.42 L396.00,53.90 L396.50,58.44 L397.00,63.03 L397.50,67.64 L398.00,72.24 L398.50,76.81 L399.00,81.34 L399.50,85.79 L400.00,90.16 L400.50,94.42 L401.00,98.57 L401.50,102.59 L402.00,106.46 L402.50,110.19 L403.00,113.76 L403.50,117.17 L404.00,120.42 L404.50,123.50 L405.00,126.40 L405.50,129.14 L406.00,131.72 L406.50,134.13 L407.00,136.37 L407.50,138.47 L408.00,140.41 L408.50,142.21 L409.00,143.86 L409.50,145.39 L410.00,146.79 L410.50,148.07 L411.00,149.24 L411.50,150.30 L412.00,151.27 L412.50,152.15 L413.00,152.94 L413.50,153.66 L414.00,154.30 L414.50,154.88 L415.00,155.40 L415.50,155.87 L416.00,156.29 L416.50,156.67 L417.00,157.00 L417.50,157.30 L418.00,157.57 L418.50,157.81 L419.00,158.02 L419.50,158.21 L420.00,158.38 L420.50,158.53 L421.00,158.67 L421.50,158.79 L422.00,158.90 L422.50,159.00 L423.00,159.10 L423.50,159.18 L424.00,159.25 L424.50,159.32 L425.00,159.39 L425.50,159.44 L426.00,159.50 L426.50,159.55 L427.00,159.60 L427.50,159.64 L428.00,159.68 L428.50,159.72 L429.00,159.76 L429.50,159.79 L430.00,159.83 L430.50,159.86 L431.00,159.89 L431.50,159.92 L432.00,159.95 L432.50,159.98 L433.00,160.00 L433.50,160.03 L434.00,160.05 L434.50,160.07 L435.00,160.10 L435.50,160.12 L436.00,160.14 L436.50,160.16 L437.00,160.18 L437.50,160.20 L438.00,160.22 L438.50,160.24 L439.00,160.26 L439.50,160.27 L440.00,160.29 L440.50,160.31 L441.00,160.32 L441.50,160.34 L442.00,160.35 L442.50,160.37 L443.00,160.38 L443.50,160.40 L444.00,160.41 L444.50,160.42 L445.00,160.44 L445.50,160.45 L446.00,160.46 L446.50,160.47 L447.00,160.49 L447.50,160.50 L448.00,160.51 L448.50,160.52 L449.00,160.53 L449.50,160.54 L450.00,160.55 L450.50,160.56 L451.00,160.57 L451.50,160.58 L452.00,160.59 L452.50,160.60 L453.00,160.61" fill="none" stroke="#46b24c" stroke-width="1.15" stroke-linejoin="round"/>
<path d="M489.00,151.28 L489.50,151.28 L490.00,151.28 L490.50,151.28 L491.00,151.28 L491.50,151.28 L492.00,151.28 L492.50,151.28 L493.00,151.28 L493.50,151.28 L494.00,151.28 L494.50,151.28 L495.00,151.28 L495.50,151.28 L496.00,151.28 L496.50,151.28 L497.00,151.28 L497.50,151.28 L498.00,151.28 L498.50,151.28 L499.00,151.28 L499.50,151.28 L500.00,151.28 L500.50,151.28 L501.00,151.28 L501.50,151.28 L502.00,151.28 L502.50,151.28 L503.00,151.28 L503.50,151.28 L504.00,151.28 L504.50,151.28 L505.00,151.28 L505.50,151.28 L506.00,151.28 L506.50,151.28 L507.00,151.28 L507.50,151.28 L508.00,151.28 L508.50,151.28 L509.00,151.28 L509.50,151.28 L510.00,151.28 L510.50,151.28 L511.00,151.28 L511.50,151.28 L512.00,151.27 L512.50,151.27 L513.00,151.27 L513.50,151.27 L514.00,151.27 L514.50,151.27 L515.00,151.27 L515.50,151.27 L516.00,151.27 L516.50,151.27 L517.00,151.27 L517.50,151.27 L518.00,151.27 L518.50,151.27 L519.00,151.27 L519.50,151.27 L520.00,151.27 L520.50,151.27 L521.00,151.27 L521.50,151.27 L522.00,151.27 L522.50,151.27 L523.00,151.27 L523.50,151.27 L524.00,151.27 L524.50,151.27 L525.00,151.27 L525.50,151.27 L526.00,151.27 L526.50,151.27 L527.00,151.27 L527.50,151.27 L528.00,151.27 L528.50,151.26 L529.00,151.26 L529.50,151.26 L530.00,151.26 L530.50,151.26 L531.00,151.26 L531.50,151.26 L532.00,151.26 L532.50,151.26 L533.00,151.26 L533.50,151.26 L534.00,151.26 L534.50,151.26 L535.00,151.26 L535.50,151.26 L536.00,151.26 L536.50,151.26 L537.00,151.26 L537.50,151.26 L538.00,151.26 L538.50,151.26 L539.00,151.25 L539.50,151.25 L540.00,151.25 L540.50,151.25 L541.00,151.25 L541.50,151.25 L542.00,151.25 L542.50,151.25 L543.00,151.25 L543.50,151.25 L544.00,151.25 L544.50,151.25 L545.00,151.25 L545.50,151.25 L546.00,151.25 L546.50,151.25 L547.00,151.24 L547.50,151.24 L548.00,151.24 L548.50,151.24 L549.00,151.24 L549.50,151.24 L550.00,151.24 L550.50,151.24 L551.00,151.24 L551.50,151.24 L552.00,151.24 L552.50,151.23 L553.00,151.23 L553.50,151.23 L554.00,151.23 L554.50,151.23 L555.00,151.23 L555.50,151.23 L556.00,151.23 L556.50,151.23 L557.00,151.22 L557.50,151.22 L558.00,151.22 L558.50,151.22 L559.00,151.22 L559.50,151.22 L560.00,151.22 L560.50,151.22 L561.00,151.21 L561.50,151.21 L562.00,151.21 L562.50,151.21 L563.00,151.21 L563.50,151.21 L564.00,151.20 L564.50,151.20 L565.00,151.20 L565.50,151.20 L566.00,151.20 L566.50,151.20 L567.00,151.19 L567.50,151.19 L568.00,151.19 L568.50,151.19 L569.00,151.19 L569.50,151.18 L570.00,151.18 L570.50,151.18 L571.00,151.18 L571.50,151.17 L572.00,151.17 L572.50,151.17 L573.00,151.16 L573.50,151.16 L574.00,151.16 L574.50,151.16 L575.00,151.15 L575.50,151.15 L576.00,151.15 L576.50,151.14 L577.00,151.14 L577.50,151.13 L578.00,151.13 L578.50,151.12 L579.00,151.12 L579.50,151.12 L580.00,151.11 L580.50,151.10 L581.00,151.10 L581.50,151.09 L582.00,151.08 L582.50,151.08 L583.00,151.07 L583.50,151.06 L584.00,151.05 L584.50,151.04 L585.00,151.02 L585.50,151.01 L586.00,150.99 L586.50,150.98 L587.00,150.96 L587.50,150.93 L588.00,150.91 L588.50,150.88 L589.00,150.84 L589.50,150.80 L590.00,150.76 L590.50,150.71 L591.00,150.65 L591.50,150.59 L592.00,150.52 L592.50,150.44 L593.00,150.34 L593.50,150.24 L594.00,150.12 L594.50,149.99 L595.00,149.84 L595.50,149.68 L596.00,149.50 L596.50,149.30 L597.00,149.07 L597.50,148.82 L598.00,148.55 L598.50,148.26 L599.00,147.93 L599.50,147.58 L600.00,147.19 L600.50,146.78 L601.00,146.33 L601.50,145.86 L602.00,145.34 L602.50,144.80 L603.00,144.22 L603.50,143.61 L604.00,142.97 L604.50,142.30 L605.00,141.60 L605.50,140.87 L606.00,140.11 L606.50,139.34 L607.00,138.54 L607.50,137.73 L608.00,136.91 L608.50,136.08 L609.00,135.24 L609.50,134.41 L610.00,133.59 L610.50,132.78 L611.00,131.99 L611.50,131.23 L612.00,130.50 L612.50,129.80 L613.00,129.15 L613.50,128.55 L614.00,128.00 L614.50,127.51 L615.00,127.09 L615.50,126.74 L616.00,126.46 L616.50,126.26 L617.00,126.14 L617.50,126.10 L618.00,126.14 L618.50,126.26 L619.00,126.46 L619.50,126.74 L620.00,127.09 L620.50,127.51 L621.00,128.00 L621.50,128.55 L622.00,129.15 L622.50,129.80 L623.00,130.50 L623.50,131.23 L624.00,131.99 L624.50,132.78 L625.00,133.59 L625.50,134.41 L626.00,135.24 L626.50,136.08 L627.00,136.91 L627.50,137.73 L628.00,138.54 L628.50,139.34 L629.00,140.11 L629.50,140.87 L630.00,141.60 L630.50,142.30 L631.00,142.97 L631.50,143.61 L632.00,144.22 L632.50,144.80 L633.00,145.34 L633.50,145.86 L634.00,146.33 L634.50,146.78 L635.00,147.19 L635.50,147.58 L636.00,147.93 L636.50,148.26 L637.00,148.55 L637.50,148.82 L638.00,149.07 L638.50,149.30 L639.00,149.50 L639.50,149.68 L640.00,149.84 L640.50,149.99 L641.00,150.12 L641.50,150.24 L642.00,150.34 L642.50,150.44 L643.00,150.52 L643.50,150.59 L644.00,150.65 L644.50,150.71 L645.00,150.76 L645.50,150.80 L646.00,150.84 L646.50,150.88 L647.00,150.91 L647.50,150.93 L648.00,150.96 L648.50,150.98 L649.00,150.99 L649.50,151.01 L650.00,151.02 L650.50,151.04 L651.00,151.05 L651.50,151.06 L652.00,151.07 L652.50,151.08 L653.00,151.08 L653.50,151.09 L654.00,151.10 L654.50,151.10 L655.00,151.11 L655.50,151.12 L656.00,151.12 L656.50,151.12 L657.00,151.13 L657.50,151.13 L658.00,151.14 L658.50,151.14 L659.00,151.15 L659.50,151.15 L660.00,151.15 L660.50,151.16 L661.00,151.16 L661.50,151.16 L662.00,151.16 L662.50,151.17 L663.00,151.17 L663.50,151.17 L664.00,151.18 L664.50,151.18 L665.00,151.18 L665.50,151.18 L666.00,151.19 L666.50,151.19 L667.00,151.19 L667.50,151.19 L668.00,151.19 L668.50,151.20 L669.00,151.20 L669.50,151.20 L670.00,151.20 L670.50,151.20 L671.00,151.20 L671.50,151.21 L672.00,151.21 L672.50,151.21 L673.00,151.21 L673.50,151.21 L674.00,151.21 L674.50,151.22 L675.00,151.22 L675.50,151.22 L676.00,151.22 L676.50,151.22 L677.00,151.22 L677.50,151.22 L678.00,151.22" fill="none" stroke="#ff6e6e" stroke-width="1.05" stroke-linejoin="round"/>
<path d="M489.00,151.28 L489.50,151.28 L490.00,151.28 L490.50,151.28 L491.00,151.28 L491.50,151.28 L492.00,151.28 L492.50,151.28 L493.00,151.28 L493.50,151.28 L494.00,151.28 L494.50,151.28 L495.00,151.28 L495.50,151.28 L496.00,151.28 L496.50,151.28 L497.00,151.28 L497.50,151.28 L498.00,151.28 L498.50,151.28 L499.00,151.28 L499.50,151.28 L500.00,151.28 L500.50,151.28 L501.00,151.28 L501.50,151.28 L502.00,151.28 L502.50,151.28 L503.00,151.28 L503.50,151.28 L504.00,151.28 L504.50,151.28 L505.00,151.28 L505.50,151.28 L506.00,151.28 L506.50,151.28 L507.00,151.27 L507.50,151.27 L508.00,151.27 L508.50,151.27 L509.00,151.27 L509.50,151.27 L510.00,151.27 L510.50,151.27 L511.00,151.27 L511.50,151.27 L512.00,151.27 L512.50,151.27 L513.00,151.27 L513.50,151.27 L514.00,151.27 L514.50,151.27 L515.00,151.27 L515.50,151.27 L516.00,151.27 L516.50,151.27 L517.00,151.27 L517.50,151.27 L518.00,151.27 L518.50,151.27 L519.00,151.27 L519.50,151.27 L520.00,151.27 L520.50,151.27 L521.00,151.27 L521.50,151.26 L522.00,151.26 L522.50,151.26 L523.00,151.26 L523.50,151.26 L524.00,151.26 L524.50,151.26 L525.00,151.26 L525.50,151.26 L526.00,151.26 L526.50,151.26 L527.00,151.26 L527.50,151.26 L528.00,151.26 L528.50,151.26 L529.00,151.26 L529.50,151.26 L530.00,151.26 L530.50,151.26 L531.00,151.25 L531.50,151.25 L532.00,151.25 L532.50,151.25 L533.00,151.25 L533.50,151.25 L534.00,151.25 L534.50,151.25 L535.00,151.25 L535.50,151.25 L536.00,151.25 L536.50,151.25 L537.00,151.25 L537.50,151.25 L538.00,151.24 L538.50,151.24 L539.00,151.24 L539.50,151.24 L540.00,151.24 L540.50,151.24 L541.00,151.24 L541.50,151.24 L542.00,151.24 L542.50,151.24 L543.00,151.23 L543.50,151.23 L544.00,151.23 L544.50,151.23 L545.00,151.23 L545.50,151.23 L546.00,151.23 L546.50,151.23 L547.00,151.22 L547.50,151.22 L548.00,151.22 L548.50,151.22 L549.00,151.22 L549.50,151.22 L550.00,151.22 L550.50,151.21 L551.00,151.21 L551.50,151.21 L552.00,151.21 L552.50,151.21 L553.00,151.21 L553.50,151.20 L554.00,151.20 L554.50,151.20 L555.00,151.20 L555.50,151.19 L556.00,151.19 L556.50,151.19 L557.00,151.19 L557.50,151.18 L558.00,151.18 L558.50,151.18 L559.00,151.17 L559.50,151.17 L560.00,151.17 L560.50,151.16 L561.00,151.15 L561.50,151.15 L562.00,151.14 L562.50,151.13 L563.00,151.12 L563.50,151.11 L564.00,151.10 L564.50,151.09 L565.00,151.07 L565.50,151.05 L566.00,151.02 L566.50,151.00 L567.00,150.96 L567.50,150.92 L568.00,150.88 L568.50,150.82 L569.00,150.76 L569.50,150.69 L570.00,150.60 L570.50,150.49 L571.00,150.37 L571.50,150.23 L572.00,150.07 L572.50,149.88 L573.00,149.66 L573.50,149.41 L574.00,149.12 L574.50,148.79 L575.00,148.40 L575.50,147.97 L576.00,147.48 L576.50,146.92 L577.00,146.29 L577.50,145.59 L578.00,144.79 L578.50,143.91 L579.00,142.92 L579.50,141.83 L580.00,140.62 L580.50,139.28 L581.00,137.82 L581.50,136.22 L582.00,134.47 L582.50,132.58 L583.00,130.52 L583.50,128.31 L584.00,125.94 L584.50,123.40 L585.00,120.69 L585.50,117.82 L586.00,114.79 L586.50,111.60 L587.00,108.25 L587.50,104.76 L588.00,101.13 L588.50,97.38 L589.00,93.52 L589.50,89.56 L590.00,85.53 L590.50,81.44 L591.00,77.32 L591.50,73.19 L592.00,69.07 L592.50,64.99 L593.00,60.98 L593.50,57.06 L594.00,53.27 L594.50,49.63 L595.00,46.16 L595.50,42.91 L596.00,39.89 L596.50,37.13 L597.00,34.65 L597.50,32.48 L598.00,30.63 L598.50,29.12 L599.00,27.97 L599.50,27.18 L600.00,26.77 L600.50,26.75 L601.00,27.33 L601.50,28.54 L602.00,30.36 L602.50,32.77 L603.00,35.73 L603.50,39.19 L604.00,43.10 L604.50,47.41 L605.00,52.05 L605.50,56.97 L606.00,62.10 L606.50,67.37 L607.00,72.74 L607.50,78.13 L608.00,83.50 L608.50,88.79 L609.00,93.96 L609.50,98.96 L610.00,103.77 L610.50,108.35 L611.00,112.68 L611.50,116.75 L612.00,120.54 L612.50,124.05 L613.00,127.28 L613.50,130.23 L614.00,132.90 L614.50,135.31 L615.00,137.47 L615.50,139.40 L616.00,141.10 L616.50,142.60 L617.00,143.91 L617.50,145.04 L618.00,146.03 L618.50,146.87 L619.00,147.59 L619.50,148.21 L620.00,148.72 L620.50,149.16 L621.00,149.52 L621.50,149.83 L622.00,150.08 L622.50,150.29 L623.00,150.46 L623.50,150.59 L624.00,150.71 L624.50,150.80 L625.00,150.87 L625.50,150.93 L626.00,150.98 L626.50,151.02 L627.00,151.05 L627.50,151.08 L628.00,151.10 L628.50,151.11 L629.00,151.13 L629.50,151.14 L630.00,151.15 L630.50,151.16 L631.00,151.16 L631.50,151.17 L632.00,151.17 L632.50,151.18 L633.00,151.18 L633.50,151.19 L634.00,151.19 L634.50,151.19 L635.00,151.20 L635.50,151.20 L636.00,151.20 L636.50,151.21 L637.00,151.21 L637.50,151.21 L638.00,151.21 L638.50,151.21 L639.00,151.22 L639.50,151.22 L640.00,151.22 L640.50,151.22 L641.00,151.22 L641.50,151.23 L642.00,151.23 L642.50,151.23 L643.00,151.23 L643.50,151.23 L644.00,151.23 L644.50,151.24 L645.00,151.24 L645.50,151.24 L646.00,151.24 L646.50,151.24 L647.00,151.24 L647.50,151.24 L648.00,151.24 L648.50,151.25 L649.00,151.25 L649.50,151.25 L650.00,151.25 L650.50,151.25 L651.00,151.25 L651.50,151.25 L652.00,151.25 L652.50,151.25 L653.00,151.25 L653.50,151.25 L654.00,151.26 L654.50,151.26 L655.00,151.26 L655.50,151.26 L656.00,151.26 L656.50,151.26 L657.00,151.26 L657.50,151.26 L658.00,151.26 L658.50,151.26 L659.00,151.26 L659.50,151.26 L660.00,151.26 L660.50,151.26 L661.00,151.27 L661.50,151.27 L662.00,151.27 L662.50,151.27 L663.00,151.27 L663.50,151.27 L664.00,151.27 L664.50,151.27 L665.00,151.27 L665.50,151.27 L666.00,151.27 L666.50,151.27 L667.00,151.27 L667.50,151.27 L668.00,151.27 L668.50,151.27 L669.00,151.27 L669.50,151.27 L670.00,151.27 L670.50,151.27 L671.00,151.27 L671.50,151.27 L672.00,151.27 L672.50,151.28 L673.00,151.28 L673.50,151.28 L674.00,151.28 L674.50,151.28 L675.00,151.28 L675.50,151.28 L676.00,151.28 L676.50,151.28 L677.00,151.28 L677.50,151.28 L678.00,151.28" fill="none" stroke="#5293ea" stroke-width="1.05" stroke-linejoin="round"/>
<path d="M489.00,151.25 L489.50,151.25 L490.00,151.25 L490.50,151.25 L491.00,151.25 L491.50,151.25 L492.00,151.25 L492.50,151.25 L493.00,151.25 L493.50,151.25 L494.00,151.24 L494.50,151.24 L495.00,151.24 L495.50,151.24 L496.00,151.24 L496.50,151.24 L497.00,151.24 L497.50,151.24 L498.00,151.24 L498.50,151.24 L499.00,151.24 L499.50,151.24 L500.00,151.24 L500.50,151.24 L501.00,151.24 L501.50,151.24 L502.00,151.24 L502.50,151.23 L503.00,151.23 L503.50,151.23 L504.00,151.23 L504.50,151.23 L505.00,151.23 L505.50,151.23 L506.00,151.23 L506.50,151.23 L507.00,151.23 L507.50,151.23 L508.00,151.23 L508.50,151.23 L509.00,151.22 L509.50,151.22 L510.00,151.22 L510.50,151.22 L511.00,151.22 L511.50,151.22 L512.00,151.22 L512.50,151.22 L513.00,151.22 L513.50,151.22 L514.00,151.22 L514.50,151.21 L515.00,151.21 L515.50,151.21 L516.00,151.21 L516.50,151.21 L517.00,151.21 L517.50,151.21 L518.00,151.21 L518.50,151.21 L519.00,151.21 L519.50,151.20 L520.00,151.20 L520.50,151.20 L521.00,151.20 L521.50,151.20 L522.00,151.20 L522.50,151.20 L523.00,151.19 L523.50,151.19 L524.00,151.19 L524.50,151.19 L525.00,151.19 L525.50,151.19 L526.00,151.19 L526.50,151.18 L527.00,151.18 L527.50,151.18 L528.00,151.18 L528.50,151.18 L529.00,151.18 L529.50,151.17 L530.00,151.17 L530.50,151.17 L531.00,151.17 L531.50,151.17 L532.00,151.17 L532.50,151.16 L533.00,151.16 L533.50,151.16 L534.00,151.16 L534.50,151.16 L535.00,151.15 L535.50,151.15 L536.00,151.15 L536.50,151.15 L537.00,151.14 L537.50,151.14 L538.00,151.14 L538.50,151.14 L539.00,151.13 L539.50,151.13 L540.00,151.13 L540.50,151.12 L541.00,151.12 L541.50,151.12 L542.00,151.12 L542.50,151.11 L543.00,151.11 L543.50,151.11 L544.00,151.10 L544.50,151.10 L545.00,151.10 L545.50,151.09 L546.00,151.09 L546.50,151.08 L547.00,151.08 L547.50,151.08 L548.00,151.07 L548.50,151.07 L549.00,151.06 L549.50,151.06 L550.00,151.05 L550.50,151.05 L551.00,151.04 L551.50,151.04 L552.00,151.03 L552.50,151.03 L553.00,151.02 L553.50,151.02 L554.00,151.01 L554.50,151.00 L555.00,151.00 L555.50,150.99 L556.00,150.98 L556.50,150.98 L557.00,150.97 L557.50,150.96 L558.00,150.95 L558.50,150.94 L559.00,150.94 L559.50,150.93 L560.00,150.92 L560.50,150.91 L561.00,150.90 L561.50,150.88 L562.00,150.87 L562.50,150.86 L563.00,150.85 L563.50,150.83 L564.00,150.81 L564.50,150.80 L565.00,150.78 L565.50,150.75 L566.00,150.73 L566.50,150.70 L567.00,150.67 L567.50,150.63 L568.00,150.59 L568.50,150.54 L569.00,150.49 L569.50,150.42 L570.00,150.34 L570.50,150.26 L571.00,150.15 L571.50,150.03 L572.00,149.89 L572.50,149.73 L573.00,149.54 L573.50,149.31 L574.00,149.06 L574.50,148.76 L575.00,148.41 L575.50,148.02 L576.00,147.56 L576.50,147.04 L577.00,146.44 L577.50,145.77 L578.00,145.00 L578.50,144.13 L579.00,143.16 L579.50,142.06 L580.00,140.84 L580.50,139.48 L581.00,137.97 L581.50,136.31 L582.00,134.48 L582.50,132.48 L583.00,130.29 L583.50,127.92 L584.00,125.36 L584.50,122.61 L585.00,119.65 L585.50,116.51 L586.00,113.17 L586.50,109.64 L587.00,105.93 L587.50,102.05 L588.00,98.02 L588.50,93.85 L589.00,89.55 L589.50,85.16 L590.00,80.69 L590.50,76.17 L591.00,71.64 L591.50,67.12 L592.00,62.64 L592.50,58.25 L593.00,53.97 L593.50,49.84 L594.00,45.91 L594.50,42.20 L595.00,38.76 L595.50,35.61 L596.00,32.78 L596.50,30.32 L597.00,28.24 L597.50,26.56 L598.00,25.31 L598.50,24.49 L599.00,24.12 L599.50,24.17 L600.00,24.63 L600.50,25.48 L601.00,26.72 L601.50,28.32 L602.00,30.27 L602.50,32.53 L603.00,35.09 L603.50,37.92 L604.00,40.97 L604.50,44.23 L605.00,47.66 L605.50,51.22 L606.00,54.88 L606.50,58.60 L607.00,62.37 L607.50,66.14 L608.00,69.89 L608.50,73.59 L609.00,77.23 L609.50,80.77 L610.00,84.19 L610.50,87.50 L611.00,90.66 L611.50,93.68 L612.00,96.55 L612.50,99.26 L613.00,101.81 L613.50,104.20 L614.00,106.44 L614.50,108.53 L615.00,110.48 L615.50,112.30 L616.00,113.99 L616.50,115.58 L617.00,117.06 L617.50,118.45 L618.00,119.77 L618.50,121.02 L619.00,122.21 L619.50,123.35 L620.00,124.44 L620.50,125.48 L621.00,126.48 L621.50,127.43 L622.00,128.36 L622.50,129.26 L623.00,130.14 L623.50,131.00 L624.00,131.84 L624.50,132.67 L625.00,133.49 L625.50,134.30 L626.00,135.10 L626.50,135.89 L627.00,136.67 L627.50,137.43 L628.00,138.19 L628.50,138.92 L629.00,139.65 L629.50,140.35 L630.00,141.04 L630.50,141.71 L631.00,142.35 L631.50,142.97 L632.00,143.57 L632.50,144.14 L633.00,144.68 L633.50,145.20 L634.00,145.69 L634.50,146.15 L635.00,146.59 L635.50,146.99 L636.00,147.37 L636.50,147.73 L637.00,148.05 L637.50,148.36 L638.00,148.64 L638.50,148.89 L639.00,149.13 L639.50,149.34 L640.00,149.53 L640.50,149.71 L641.00,149.87 L641.50,150.01 L642.00,150.14 L642.50,150.25 L643.00,150.35 L643.50,150.44 L644.00,150.52 L644.50,150.60 L645.00,150.66 L645.50,150.71 L646.00,150.76 L646.50,150.81 L647.00,150.84 L647.50,150.88 L648.00,150.91 L648.50,150.93 L649.00,150.95 L649.50,150.97 L650.00,150.99 L650.50,151.01 L651.00,151.02 L651.50,151.03 L652.00,151.04 L652.50,151.05 L653.00,151.06 L653.50,151.07 L654.00,151.07 L654.50,151.08 L655.00,151.08 L655.50,151.09 L656.00,151.09 L656.50,151.10 L657.00,151.10 L657.50,151.11 L658.00,151.11 L658.50,151.11 L659.00,151.12 L659.50,151.12 L660.00,151.12 L660.50,151.13 L661.00,151.13 L661.50,151.13 L662.00,151.13 L662.50,151.14 L663.00,151.14 L663.50,151.14 L664.00,151.14 L664.50,151.15 L665.00,151.15 L665.50,151.15 L666.00,151.15 L666.50,151.16 L667.00,151.16 L667.50,151.16 L668.00,151.16 L668.50,151.16 L669.00,151.17 L669.50,151.17 L670.00,151.17 L670.50,151.17 L671.00,151.17 L671.50,151.17 L672.00,151.18 L672.50,151.18 L673.00,151.18 L673.50,151.18 L674.00,151.18 L674.50,151.18 L675.00,151.19 L675.50,151.19 L676.00,151.19 L676.50,151.19 L677.00,151.19 L677.50,151.19 L678.00,151.19" fill="none" stroke="#46b24c" stroke-width="1.15" stroke-linejoin="round"/>
<path d="M12.50,348.84 L13.00,348.84 L13.50,348.83 L14.00,348.83 L14.50,348.83 L15.00,348.82 L15.50,348.82 L16.00,348.81 L16.50,348.81 L17.00,348.81 L17.50,348.80 L18.00,348.80 L18.50,348.79 L19.00,348.79 L19.50,348.78 L20.00,348.78 L20.50,348.78 L21.00,348.77 L21.50,348.77 L22.00,348.76 L22.50,348.76 L23.00,348.75 L23.50,348.75 L24.00,348.74 L24.50,348.74 L25.00,348.73 L25.50,348.73 L26.00,348.72 L26.50,348.72 L27.00,348.71 L27.50,348.71 L28.00,348.70 L28.50,348.70 L29.00,348.69 L29.50,348.68 L30.00,348.68 L30.50,348.67 L31.00,348.67 L31.50,348.66 L32.00,348.66 L32.50,348.65 L33.00,348.64 L33.50,348.64 L34.00,348.63 L34.50,348.62 L35.00,348.62 L35.50,348.61 L36.00,348.60 L36.50,348.60 L37.00,348.59 L37.50,348.58 L38.00,348.58 L38.50,348.57 L39.00,348.56 L39.50,348.55 L40.00,348.55 L40.50,348.54 L41.00,348.53 L41.50,348.52 L42.00,348.51 L42.50,348.51 L43.00,348.50 L43.50,348.49 L44.00,348.48 L44.50,348.47 L45.00,348.46 L45.50,348.45 L46.00,348.44 L46.50,348.44 L47.00,348.43 L47.50,348.42 L48.00,348.41 L48.50,348.40 L49.00,348.39 L49.50,348.38 L50.00,348.37 L50.50,348.35 L51.00,348.34 L51.50,348.33 L52.00,348.32 L52.50,348.31 L53.00,348.30 L53.50,348.29 L54.00,348.27 L54.50,348.26 L55.00,348.25 L55.50,348.24 L56.00,348.22 L56.50,348.21 L57.00,348.20 L57.50,348.18 L58.00,348.17 L58.50,348.15 L59.00,348.14 L59.50,348.12 L60.00,348.11 L60.50,348.09 L61.00,348.08 L61.50,348.06 L62.00,348.04 L62.50,348.03 L63.00,348.01 L63.50,347.99 L64.00,347.97 L64.50,347.95 L65.00,347.93 L65.50,347.91 L66.00,347.89 L66.50,347.87 L67.00,347.85 L67.50,347.82 L68.00,347.80 L68.50,347.77 L69.00,347.75 L69.50,347.72 L70.00,347.69 L70.50,347.66 L71.00,347.63 L71.50,347.60 L72.00,347.57 L72.50,347.53 L73.00,347.50 L73.50,347.46 L74.00,347.42 L74.50,347.38 L75.00,347.34 L75.50,347.29 L76.00,347.24 L76.50,347.19 L77.00,347.14 L77.50,347.08 L78.00,347.02 L78.50,346.96 L79.00,346.90 L79.50,346.83 L80.00,346.75 L80.50,346.67 L81.00,346.59 L81.50,346.50 L82.00,346.41 L82.50,346.31 L83.00,346.21 L83.50,346.10 L84.00,345.98 L84.50,345.85 L85.00,345.72 L85.50,345.58 L86.00,345.43 L86.50,345.27 L87.00,345.11 L87.50,344.93 L88.00,344.74 L88.50,344.54 L89.00,344.33 L89.50,344.11 L90.00,343.88 L90.50,343.63 L91.00,343.36 L91.50,343.09 L92.00,342.79 L92.50,342.48 L93.00,342.16 L93.50,341.81 L94.00,341.45 L94.50,341.07 L95.00,340.67 L95.50,340.25 L96.00,339.80 L96.50,339.34 L97.00,338.85 L97.50,338.34 L98.00,337.80 L98.50,337.25 L99.00,336.66 L99.50,336.05 L100.00,335.41 L100.50,334.75 L101.00,334.05 L101.50,333.33 L102.00,332.58 L102.50,331.80 L103.00,330.99 L103.50,330.16 L104.00,329.29 L104.50,328.39 L105.00,327.46 L105.50,326.50 L106.00,325.51 L106.50,324.48 L107.00,323.43 L107.50,322.35 L108.00,321.24 L108.50,320.10 L109.00,318.92 L109.50,317.73 L110.00,316.50 L110.50,315.24 L111.00,313.96 L111.50,312.66 L112.00,311.33 L112.50,309.98 L113.00,308.60 L113.50,307.21 L114.00,305.80 L114.50,304.37 L115.00,302.92 L115.50,301.47 L116.00,300.00 L116.50,298.52 L117.00,297.03 L117.50,295.54 L118.00,294.05 L118.50,292.56 L119.00,291.06 L119.50,289.58 L120.00,288.10 L120.50,286.63 L121.00,285.18 L121.50,283.74 L122.00,282.33 L122.50,280.93 L123.00,279.56 L123.50,278.23 L124.00,276.92 L124.50,275.65 L125.00,274.42 L125.50,273.23 L126.00,272.09 L126.50,270.99 L127.00,269.95 L127.50,268.97 L128.00,268.04 L128.50,267.17 L129.00,266.37 L129.50,265.64 L130.00,264.97 L130.50,264.38 L131.00,263.87 L131.50,263.42 L132.00,263.06 L132.50,262.78 L133.00,262.57 L133.50,262.45 L134.00,262.41 L134.50,262.45 L135.00,262.59 L135.50,262.81 L136.00,263.12 L136.50,263.51 L137.00,263.99 L137.50,264.56 L138.00,265.20 L138.50,265.92 L139.00,266.71 L139.50,267.58 L140.00,268.52 L140.50,269.52 L141.00,270.58 L141.50,271.71 L142.00,272.88 L142.50,274.11 L143.00,275.38 L143.50,276.70 L144.00,278.06 L144.50,279.46 L145.00,280.88 L145.50,282.34 L146.00,283.82 L146.50,285.32 L147.00,286.84 L147.50,288.37 L148.00,289.91 L148.50,291.47 L149.00,293.02 L149.50,294.58 L150.00,296.14 L150.50,297.70 L151.00,299.24 L151.50,300.78 L152.00,302.31 L152.50,303.82 L153.00,305.32 L153.50,306.80 L154.00,308.26 L154.50,309.70 L155.00,311.11 L155.50,312.51 L156.00,313.87 L156.50,315.21 L157.00,316.52 L157.50,317.80 L158.00,319.05 L158.50,320.26 L159.00,321.45 L159.50,322.61 L160.00,323.73 L160.50,324.82 L161.00,325.87 L161.50,326.89 L162.00,327.88 L162.50,328.84 L163.00,329.76 L163.50,330.65 L164.00,331.51 L164.50,332.33 L165.00,333.12 L165.50,333.88 L166.00,334.61 L166.50,335.31 L167.00,335.98 L167.50,336.62 L168.00,337.23 L168.50,337.82 L169.00,338.37 L169.50,338.91 L170.00,339.41 L170.50,339.89 L171.00,340.35 L171.50,340.78 L172.00,341.20 L172.50,341.59 L173.00,341.96 L173.50,342.31 L174.00,342.64 L174.50,342.96 L175.00,343.25 L175.50,343.53 L176.00,343.80 L176.50,344.05 L177.00,344.28 L177.50,344.51 L178.00,344.71 L178.50,344.91 L179.00,345.10 L179.50,345.27 L180.00,345.44 L180.50,345.59 L181.00,345.74 L181.50,345.87 L182.00,346.00 L182.50,346.12 L183.00,346.24 L183.50,346.34 L184.00,346.45 L184.50,346.54 L185.00,346.63 L185.50,346.71 L186.00,346.79 L186.50,346.87 L187.00,346.94 L187.50,347.00 L188.00,347.07 L188.50,347.13 L189.00,347.18 L189.50,347.24 L190.00,347.29 L190.50,347.33 L191.00,347.38 L191.50,347.42 L192.00,347.46 L192.50,347.50 L193.00,347.54 L193.50,347.58 L194.00,347.61 L194.50,347.64 L195.00,347.67 L195.50,347.70 L196.00,347.73 L196.50,347.76 L197.00,347.79 L197.50,347.81 L198.00,347.84 L198.50,347.86 L199.00,347.88 L199.50,347.91 L200.00,347.93 L200.50,347.95 L201.00,347.97 L201.50,347.99 L202.00,348.01 L202.50,348.03 L203.00,348.04 L203.50,348.06 L204.00,348.08 L204.50,348.10 L205.00,348.11 L205.50,348.13 L206.00,348.14 L206.50,348.16 L207.00,348.17 L207.50,348.19 L208.00,348.20 L208.50,348.22 L209.00,348.23 L209.50,348.24 L210.00,348.26 L210.50,348.27 L211.00,348.28 L211.50,348.30 L212.00,348.31 L212.50,348.32 L213.00,348.33 L213.50,348.34 L214.00,348.36" fill="none" stroke="#ff6e6e" stroke-width="1.05" stroke-linejoin="round"/>
<path d="M12.50,348.92 L13.00,348.92 L13.50,348.91 L14.00,348.91 L14.50,348.90 L15.00,348.90 L15.50,348.89 L16.00,348.89 L16.50,348.88 L17.00,348.88 L17.50,348.87 L18.00,348.86 L18.50,348.86 L19.00,348.85 L19.50,348.85 L20.00,348.84 L20.50,348.83 L21.00,348.83 L21.50,348.82 L22.00,348.81 L22.50,348.81 L23.00,348.80 L23.50,348.79 L24.00,348.78 L24.50,348.78 L25.00,348.77 L25.50,348.76 L26.00,348.75 L26.50,348.74 L27.00,348.74 L27.50,348.73 L28.00,348.72 L28.50,348.71 L29.00,348.70 L29.50,348.69 L30.00,348.68 L30.50,348.67 L31.00,348.66 L31.50,348.65 L32.00,348.64 L32.50,348.63 L33.00,348.62 L33.50,348.60 L34.00,348.59 L34.50,348.58 L35.00,348.57 L35.50,348.55 L36.00,348.54 L36.50,348.53 L37.00,348.51 L37.50,348.50 L38.00,348.48 L38.50,348.47 L39.00,348.45 L39.50,348.44 L40.00,348.42 L40.50,348.40 L41.00,348.38 L41.50,348.36 L42.00,348.34 L42.50,348.32 L43.00,348.30 L43.50,348.28 L44.00,348.26 L44.50,348.23 L45.00,348.21 L45.50,348.18 L46.00,348.15 L46.50,348.12 L47.00,348.08 L47.50,348.05 L48.00,348.01 L48.50,347.97 L49.00,347.92 L49.50,347.87 L50.00,347.82 L50.50,347.76 L51.00,347.70 L51.50,347.63 L52.00,347.55 L52.50,347.46 L53.00,347.37 L53.50,347.26 L54.00,347.15 L54.50,347.02 L55.00,346.87 L55.50,346.71 L56.00,346.53 L56.50,346.33 L57.00,346.11 L57.50,345.86 L58.00,345.59 L58.50,345.28 L59.00,344.95 L59.50,344.57 L60.00,344.16 L60.50,343.70 L61.00,343.19 L61.50,342.64 L62.00,342.02 L62.50,341.35 L63.00,340.61 L63.50,339.81 L64.00,338.92 L64.50,337.96 L65.00,336.92 L65.50,335.78 L66.00,334.55 L66.50,333.23 L67.00,331.80 L67.50,330.26 L68.00,328.60 L68.50,326.84 L69.00,324.95 L69.50,322.94 L70.00,320.80 L70.50,318.53 L71.00,316.14 L71.50,313.61 L72.00,310.96 L72.50,308.17 L73.00,305.26 L73.50,302.22 L74.00,299.07 L74.50,295.79 L75.00,292.41 L75.50,288.92 L76.00,285.34 L76.50,281.67 L77.00,277.93 L77.50,274.12 L78.00,270.26 L78.50,266.36 L79.00,262.44 L79.50,258.51 L80.00,254.59 L80.50,250.70 L81.00,246.86 L81.50,243.07 L82.00,239.37 L82.50,235.77 L83.00,232.30 L83.50,228.96 L84.00,225.79 L84.50,222.80 L85.00,220.01 L85.50,217.44 L86.00,215.10 L86.50,213.02 L87.00,211.21 L87.50,209.68 L88.00,208.44 L88.50,207.51 L89.00,206.89 L89.50,206.58 L90.00,206.59 L90.50,206.85 L91.00,207.35 L91.50,208.10 L92.00,209.09 L92.50,210.31 L93.00,211.76 L93.50,213.43 L94.00,215.30 L94.50,217.37 L95.00,219.63 L95.50,222.06 L96.00,224.65 L96.50,227.38 L97.00,230.26 L97.50,233.25 L98.00,236.35 L98.50,239.54 L99.00,242.81 L99.50,246.15 L100.00,249.54 L100.50,252.96 L101.00,256.42 L101.50,259.89 L102.00,263.36 L102.50,266.82 L103.00,270.27 L103.50,273.68 L104.00,277.05 L104.50,280.38 L105.00,283.65 L105.50,286.86 L106.00,290.00 L106.50,293.06 L107.00,296.04 L107.50,298.93 L108.00,301.73 L108.50,304.44 L109.00,307.05 L109.50,309.57 L110.00,311.98 L110.50,314.29 L111.00,316.50 L111.50,318.60 L112.00,320.61 L112.50,322.52 L113.00,324.32 L113.50,326.03 L114.00,327.65 L114.50,329.17 L115.00,330.60 L115.50,331.95 L116.00,333.21 L116.50,334.39 L117.00,335.49 L117.50,336.52 L118.00,337.48 L118.50,338.36 L119.00,339.19 L119.50,339.95 L120.00,340.66 L120.50,341.31 L121.00,341.91 L121.50,342.47 L122.00,342.98 L122.50,343.44 L123.00,343.87 L123.50,344.26 L124.00,344.62 L124.50,344.95 L125.00,345.25 L125.50,345.53 L126.00,345.77 L126.50,346.00 L127.00,346.21 L127.50,346.40 L128.00,346.57 L128.50,346.72 L129.00,346.87 L129.50,347.00 L130.00,347.11 L130.50,347.22 L131.00,347.32 L131.50,347.41 L132.00,347.49 L132.50,347.56 L133.00,347.63 L133.50,347.69 L134.00,347.75 L134.50,347.80 L135.00,347.85 L135.50,347.90 L136.00,347.94 L136.50,347.98 L137.00,348.01 L137.50,348.05 L138.00,348.08 L138.50,348.11 L139.00,348.14 L139.50,348.16 L140.00,348.19 L140.50,348.21 L141.00,348.24 L141.50,348.26 L142.00,348.28 L142.50,348.30 L143.00,348.32 L143.50,348.34 L144.00,348.35 L144.50,348.37 L145.00,348.39 L145.50,348.40 L146.00,348.42 L146.50,348.43 L147.00,348.45 L147.50,348.46 L148.00,348.48 L148.50,348.49 L149.00,348.50 L149.50,348.52 L150.00,348.53 L150.50,348.54 L151.00,348.55 L151.50,348.56 L152.00,348.58 L152.50,348.59 L153.00,348.60 L153.50,348.61 L154.00,348.62 L154.50,348.63 L155.00,348.64 L155.50,348.65 L156.00,348.66 L156.50,348.67 L157.00,348.67 L157.50,348.68 L158.00,348.69 L158.50,348.70 L159.00,348.71 L159.50,348.72 L160.00,348.72 L160.50,348.73 L161.00,348.74 L161.50,348.75 L162.00,348.75 L162.50,348.76 L163.00,348.77 L163.50,348.78 L164.00,348.78 L164.50,348.79 L165.00,348.80 L165.50,348.80 L166.00,348.81 L166.50,348.81 L167.00,348.82 L167.50,348.83 L168.00,348.83 L168.50,348.84 L169.00,348.84 L169.50,348.85 L170.00,348.85 L170.50,348.86 L171.00,348.87 L171.50,348.87 L172.00,348.88 L172.50,348.88 L173.00,348.89 L173.50,348.89 L174.00,348.89 L174.50,348.90 L175.00,348.90 L175.50,348.91 L176.00,348.91 L176.50,348.92 L177.00,348.92 L177.50,348.93 L178.00,348.93 L178.50,348.93 L179.00,348.94 L179.50,348.94 L180.00,348.95 L180.50,348.95 L181.00,348.95 L181.50,348.96 L182.00,348.96 L182.50,348.96 L183.00,348.97 L183.50,348.97 L184.00,348.97 L184.50,348.98 L185.00,348.98 L185.50,348.98 L186.00,348.99 L186.50,348.99 L187.00,348.99 L187.50,349.00 L188.00,349.00 L188.50,349.00 L189.00,349.01 L189.50,349.01 L190.00,349.01 L190.50,349.01 L191.00,349.02 L191.50,349.02 L192.00,349.02 L192.50,349.03 L193.00,349.03 L193.50,349.03 L194.00,349.03 L194.50,349.04 L195.00,349.04 L195.50,349.04 L196.00,349.04 L196.50,349.04 L197.00,349.05 L197.50,349.05 L198.00,349.05 L198.50,349.05 L199.00,349.06 L199.50,349.06 L200.00,349.06 L200.50,349.06 L201.00,349.06 L201.50,349.07 L202.00,349.07 L202.50,349.07 L203.00,349.07 L203.50,349.07 L204.00,349.08 L204.50,349.08 L205.00,349.08 L205.50,349.08 L206.00,349.08 L206.50,349.09 L207.00,349.09 L207.50,349.09 L208.00,349.09 L208.50,349.09 L209.00,349.09 L209.50,349.10 L210.00,349.10 L210.50,349.10 L211.00,349.10 L211.50,349.10 L212.00,349.10 L212.50,349.11 L213.00,349.11 L213.50,349.11 L214.00,349.11" fill="none" stroke="#5293ea" stroke-width="1.05" stroke-linejoin="round"/>
<path d="M12.50,348.67 L13.00,348.66 L13.50,348.65 L14.00,348.65 L14.50,348.64 L15.00,348.63 L15.50,348.63 L16.00,348.62 L16.50,348.61 L17.00,348.61 L17.50,348.60 L18.00,348.59 L18.50,348.58 L19.00,348.57 L19.50,348.57 L20.00,348.56 L20.50,348.55 L21.00,348.54 L21.50,348.53 L22.00,348.52 L22.50,348.51 L23.00,348.51 L23.50,348.50 L24.00,348.49 L24.50,348.48 L25.00,348.47 L25.50,348.46 L26.00,348.45 L26.50,348.44 L27.00,348.43 L27.50,348.41 L28.00,348.40 L28.50,348.39 L29.00,348.38 L29.50,348.37 L30.00,348.36 L30.50,348.34 L31.00,348.33 L31.50,348.32 L32.00,348.31 L32.50,348.29 L33.00,348.28 L33.50,348.27 L34.00,348.25 L34.50,348.24 L35.00,348.22 L35.50,348.21 L36.00,348.19 L36.50,348.17 L37.00,348.16 L37.50,348.14 L38.00,348.12 L38.50,348.11 L39.00,348.09 L39.50,348.07 L40.00,348.05 L40.50,348.03 L41.00,348.01 L41.50,347.99 L42.00,347.97 L42.50,347.94 L43.00,347.92 L43.50,347.89 L44.00,347.87 L44.50,347.84 L45.00,347.81 L45.50,347.78 L46.00,347.75 L46.50,347.72 L47.00,347.68 L47.50,347.64 L48.00,347.60 L48.50,347.56 L49.00,347.51 L49.50,347.46 L50.00,347.40 L50.50,347.34 L51.00,347.27 L51.50,347.19 L52.00,347.11 L52.50,347.02 L53.00,346.92 L53.50,346.81 L54.00,346.69 L54.50,346.55 L55.00,346.40 L55.50,346.23 L56.00,346.04 L56.50,345.84 L57.00,345.61 L57.50,345.35 L58.00,345.07 L58.50,344.75 L59.00,344.40 L59.50,344.01 L60.00,343.59 L60.50,343.11 L61.00,342.59 L61.50,342.02 L62.00,341.39 L62.50,340.70 L63.00,339.94 L63.50,339.12 L64.00,338.22 L64.50,337.23 L65.00,336.17 L65.50,335.01 L66.00,333.76 L66.50,332.41 L67.00,330.96 L67.50,329.39 L68.00,327.72 L68.50,325.93 L69.00,324.02 L69.50,321.98 L70.00,319.83 L70.50,317.54 L71.00,315.13 L71.50,312.59 L72.00,309.91 L72.50,307.12 L73.00,304.19 L73.50,301.15 L74.00,297.98 L74.50,294.71 L75.00,291.32 L75.50,287.84 L76.00,284.26 L76.50,280.60 L77.00,276.87 L77.50,273.08 L78.00,269.24 L78.50,265.37 L79.00,261.47 L79.50,257.58 L80.00,253.69 L80.50,249.83 L81.00,246.02 L81.50,242.28 L82.00,238.62 L82.50,235.06 L83.00,231.62 L83.50,228.32 L84.00,225.18 L84.50,222.21 L85.00,219.45 L85.50,216.89 L86.00,214.57 L86.50,212.48 L87.00,210.66 L87.50,209.11 L88.00,207.83 L88.50,206.85 L89.00,206.16 L89.50,205.76 L90.00,205.66 L90.50,205.78 L91.00,206.11 L91.50,206.65 L92.00,207.40 L92.50,208.35 L93.00,209.50 L93.50,210.83 L94.00,212.35 L94.50,214.04 L95.00,215.89 L95.50,217.89 L96.00,220.04 L96.50,222.31 L97.00,224.70 L97.50,227.20 L98.00,229.80 L98.50,232.47 L99.00,235.21 L99.50,238.00 L100.00,240.83 L100.50,243.69 L101.00,246.56 L101.50,249.44 L102.00,252.30 L102.50,255.13 L103.00,257.93 L103.50,260.68 L104.00,263.37 L104.50,266.00 L105.00,268.54 L105.50,270.99 L106.00,273.35 L106.50,275.61 L107.00,277.75 L107.50,279.77 L108.00,281.67 L108.50,283.44 L109.00,285.08 L109.50,286.59 L110.00,287.96 L110.50,289.18 L111.00,290.27 L111.50,291.21 L112.00,292.01 L112.50,292.67 L113.00,293.20 L113.50,293.58 L114.00,293.84 L114.50,293.96 L115.00,293.95 L115.50,293.82 L116.00,293.57 L116.50,293.21 L117.00,292.74 L117.50,292.17 L118.00,291.50 L118.50,290.74 L119.00,289.89 L119.50,288.97 L120.00,287.98 L120.50,286.93 L121.00,285.82 L121.50,284.67 L122.00,283.47 L122.50,282.24 L123.00,280.99 L123.50,279.72 L124.00,278.44 L124.50,277.15 L125.00,275.88 L125.50,274.62 L126.00,273.38 L126.50,272.17 L127.00,271.00 L127.50,269.87 L128.00,268.80 L128.50,267.78 L129.00,266.83 L129.50,265.96 L130.00,265.16 L130.50,264.44 L131.00,263.81 L131.50,263.28 L132.00,262.85 L132.50,262.51 L133.00,262.28 L133.50,262.16 L134.00,262.15 L134.50,262.23 L135.00,262.39 L135.50,262.64 L136.00,262.98 L136.50,263.40 L137.00,263.89 L137.50,264.47 L138.00,265.13 L138.50,265.86 L139.00,266.67 L139.50,267.55 L140.00,268.49 L140.50,269.50 L141.00,270.57 L141.50,271.69 L142.00,272.87 L142.50,274.11 L143.00,275.38 L143.50,276.71 L144.00,278.07 L144.50,279.46 L145.00,280.89 L145.50,282.35 L146.00,283.83 L146.50,285.33 L147.00,286.85 L147.50,288.38 L148.00,289.93 L148.50,291.48 L149.00,293.04 L149.50,294.59 L150.00,296.15 L150.50,297.71 L151.00,299.25 L151.50,300.79 L152.00,302.32 L152.50,303.83 L153.00,305.33 L153.50,306.81 L154.00,308.27 L154.50,309.71 L155.00,311.12 L155.50,312.51 L156.00,313.88 L156.50,315.22 L157.00,316.52 L157.50,317.80 L158.00,319.05 L158.50,320.27 L159.00,321.46 L159.50,322.61 L160.00,323.73 L160.50,324.82 L161.00,325.88 L161.50,326.90 L162.00,327.89 L162.50,328.84 L163.00,329.76 L163.50,330.65 L164.00,331.51 L164.50,332.33 L165.00,333.13 L165.50,333.89 L166.00,334.62 L166.50,335.31 L167.00,335.98 L167.50,336.62 L168.00,337.24 L168.50,337.82 L169.00,338.38 L169.50,338.91 L170.00,339.41 L170.50,339.89 L171.00,340.35 L171.50,340.79 L172.00,341.20 L172.50,341.59 L173.00,341.96 L173.50,342.31 L174.00,342.64 L174.50,342.96 L175.00,343.25 L175.50,343.53 L176.00,343.80 L176.50,344.05 L177.00,344.28 L177.50,344.51 L178.00,344.72 L178.50,344.91 L179.00,345.10 L179.50,345.27 L180.00,345.44 L180.50,345.59 L181.00,345.74 L181.50,345.87 L182.00,346.00 L182.50,346.12 L183.00,346.24 L183.50,346.35 L184.00,346.45 L184.50,346.54 L185.00,346.63 L185.50,346.71 L186.00,346.79 L186.50,346.87 L187.00,346.94 L187.50,347.01 L188.00,347.07 L188.50,347.13 L189.00,347.18 L189.50,347.24 L190.00,347.29 L190.50,347.33 L191.00,347.38 L191.50,347.42 L192.00,347.46 L192.50,347.50 L193.00,347.54 L193.50,347.58 L194.00,347.61 L194.50,347.64 L195.00,347.67 L195.50,347.70 L196.00,347.73 L196.50,347.76 L197.00,347.79 L197.50,347.81 L198.00,347.84 L198.50,347.86 L199.00,347.88 L199.50,347.91 L200.00,347.93 L200.50,347.95 L201.00,347.97 L201.50,347.99 L202.00,348.01 L202.50,348.03 L203.00,348.05 L203.50,348.06 L204.00,348.08 L204.50,348.10 L205.00,348.11 L205.50,348.13 L206.00,348.14 L206.50,348.16 L207.00,348.18 L207.50,348.19 L208.00,348.20 L208.50,348.22 L209.00,348.23 L209.50,348.25 L210.00,348.26 L210.50,348.27 L211.00,348.28 L211.50,348.30 L212.00,348.31 L212.50,348.32 L213.00,348.33 L213.50,348.34 L214.00,348.36" fill="none" stroke="#c6a04e" stroke-width="1.15" stroke-linejoin="round"/>
<path d="M251.00,349.12 L251.50,349.12 L252.00,349.12 L252.50,349.12 L253.00,349.12 L253.50,349.12 L254.00,349.11 L254.50,349.11 L255.00,349.11 L255.50,349.11 L256.00,349.11 L256.50,349.11 L257.00,349.11 L257.50,349.10 L258.00,349.10 L258.50,349.10 L259.00,349.10 L259.50,349.10 L260.00,349.10 L260.50,349.10 L261.00,349.09 L261.50,349.09 L262.00,349.09 L262.50,349.09 L263.00,349.09 L263.50,349.09 L264.00,349.08 L264.50,349.08 L265.00,349.08 L265.50,349.08 L266.00,349.08 L266.50,349.08 L267.00,349.07 L267.50,349.07 L268.00,349.07 L268.50,349.07 L269.00,349.07 L269.50,349.06 L270.00,349.06 L270.50,349.06 L271.00,349.06 L271.50,349.06 L272.00,349.05 L272.50,349.05 L273.00,349.05 L273.50,349.05 L274.00,349.05 L274.50,349.04 L275.00,349.04 L275.50,349.04 L276.00,349.04 L276.50,349.03 L277.00,349.03 L277.50,349.03 L278.00,349.03 L278.50,349.02 L279.00,349.02 L279.50,349.02 L280.00,349.02 L280.50,349.01 L281.00,349.01 L281.50,349.01 L282.00,349.01 L282.50,349.00 L283.00,349.00 L283.50,349.00 L284.00,349.00 L284.50,348.99 L285.00,348.99 L285.50,348.99 L286.00,348.98 L286.50,348.98 L287.00,348.98 L287.50,348.97 L288.00,348.97 L288.50,348.97 L289.00,348.97 L289.50,348.96 L290.00,348.96 L290.50,348.96 L291.00,348.95 L291.50,348.95 L292.00,348.94 L292.50,348.94 L293.00,348.94 L293.50,348.93 L294.00,348.93 L294.50,348.93 L295.00,348.92 L295.50,348.92 L296.00,348.91 L296.50,348.91 L297.00,348.91 L297.50,348.90 L298.00,348.90 L298.50,348.89 L299.00,348.89 L299.50,348.89 L300.00,348.88 L300.50,348.88 L301.00,348.87 L301.50,348.87 L302.00,348.86 L302.50,348.86 L303.00,348.85 L303.50,348.85 L304.00,348.84 L304.50,348.84 L305.00,348.83 L305.50,348.83 L306.00,348.82 L306.50,348.81 L307.00,348.81 L307.50,348.80 L308.00,348.80 L308.50,348.79 L309.00,348.78 L309.50,348.78 L310.00,348.77 L310.50,348.77 L311.00,348.76 L311.50,348.75 L312.00,348.75 L312.50,348.74 L313.00,348.73 L313.50,348.72 L314.00,348.72 L314.50,348.71 L315.00,348.70 L315.50,348.69 L316.00,348.69 L316.50,348.68 L317.00,348.67 L317.50,348.66 L318.00,348.65 L318.50,348.64 L319.00,348.63 L319.50,348.62 L320.00,348.62 L320.50,348.61 L321.00,348.60 L321.50,348.58 L322.00,348.57 L322.50,348.56 L323.00,348.55 L323.50,348.54 L324.00,348.53 L324.50,348.52 L325.00,348.50 L325.50,348.49 L326.00,348.48 L326.50,348.46 L327.00,348.45 L327.50,348.43 L328.00,348.42 L328.50,348.40 L329.00,348.38 L329.50,348.36 L330.00,348.34 L330.50,348.32 L331.00,348.30 L331.50,348.28 L332.00,348.26 L332.50,348.23 L333.00,348.21 L333.50,348.18 L334.00,348.15 L334.50,348.12 L335.00,348.09 L335.50,348.05 L336.00,348.02 L336.50,347.98 L337.00,347.94 L337.50,347.89 L338.00,347.84 L338.50,347.79 L339.00,347.74 L339.50,347.68 L340.00,347.62 L340.50,347.55 L341.00,347.48 L341.50,347.40 L342.00,347.32 L342.50,347.23 L343.00,347.13 L343.50,347.03 L344.00,346.92 L344.50,346.81 L345.00,346.68 L345.50,346.55 L346.00,346.40 L346.50,346.25 L347.00,346.09 L347.50,345.91 L348.00,345.72 L348.50,345.52 L349.00,345.31 L349.50,345.08 L350.00,344.84 L350.50,344.58 L351.00,344.31 L351.50,344.02 L352.00,343.71 L352.50,343.38 L353.00,343.03 L353.50,342.66 L354.00,342.27 L354.50,341.86 L355.00,341.43 L355.50,340.97 L356.00,340.48 L356.50,339.98 L357.00,339.44 L357.50,338.88 L358.00,338.29 L358.50,337.68 L359.00,337.03 L359.50,336.36 L360.00,335.66 L360.50,334.92 L361.00,334.16 L361.50,333.36 L362.00,332.54 L362.50,331.68 L363.00,330.80 L363.50,329.88 L364.00,328.93 L364.50,327.95 L365.00,326.94 L365.50,325.90 L366.00,324.83 L366.50,323.74 L367.00,322.61 L367.50,321.46 L368.00,320.29 L368.50,319.09 L369.00,317.87 L369.50,316.62 L370.00,315.36 L370.50,314.08 L371.00,312.79 L371.50,311.48 L372.00,310.16 L372.50,308.83 L373.00,307.49 L373.50,306.15 L374.00,304.80 L374.50,303.46 L375.00,302.12 L375.50,300.79 L376.00,299.47 L376.50,298.17 L377.00,296.88 L377.50,295.61 L378.00,294.36 L378.50,293.14 L379.00,291.95 L379.50,290.79 L380.00,289.67 L380.50,288.60 L381.00,287.56 L381.50,286.58 L382.00,285.64 L382.50,284.76 L383.00,283.94 L383.50,283.18 L384.00,282.48 L384.50,281.85 L385.00,281.28 L385.50,280.79 L386.00,280.37 L386.50,280.03 L387.00,279.76 L387.50,279.57 L388.00,279.46 L388.50,279.43 L389.00,279.53 L389.50,279.81 L390.00,280.25 L390.50,280.85 L391.00,281.62 L391.50,282.53 L392.00,283.59 L392.50,284.78 L393.00,286.10 L393.50,287.53 L394.00,289.06 L394.50,290.69 L395.00,292.40 L395.50,294.18 L396.00,296.02 L396.50,297.90 L397.00,299.83 L397.50,301.78 L398.00,303.75 L398.50,305.72 L399.00,307.70 L399.50,309.66 L400.00,311.61 L400.50,313.53 L401.00,315.42 L401.50,317.27 L402.00,319.07 L402.50,320.83 L403.00,322.54 L403.50,324.18 L404.00,325.77 L404.50,327.29 L405.00,328.75 L405.50,330.15 L406.00,331.48 L406.50,332.74 L407.00,333.93 L407.50,335.06 L408.00,336.12 L408.50,337.11 L409.00,338.05 L409.50,338.92 L410.00,339.73 L410.50,340.49 L411.00,341.19 L411.50,341.84 L412.00,342.44 L412.50,342.99 L413.00,343.50 L413.50,343.97 L414.00,344.40 L414.50,344.79 L415.00,345.14 L415.50,345.47 L416.00,345.76 L416.50,346.03 L417.00,346.27 L417.50,346.49 L418.00,346.69 L418.50,346.87 L419.00,347.04 L419.50,347.18 L420.00,347.32 L420.50,347.44 L421.00,347.54 L421.50,347.64 L422.00,347.73 L422.50,347.81 L423.00,347.88 L423.50,347.95 L424.00,348.01 L424.50,348.06 L425.00,348.11 L425.50,348.16 L426.00,348.20 L426.50,348.24 L427.00,348.27 L427.50,348.31 L428.00,348.34 L428.50,348.36 L429.00,348.39 L429.50,348.42 L430.00,348.44 L430.50,348.46 L431.00,348.48 L431.50,348.50 L432.00,348.52 L432.50,348.54 L433.00,348.55 L433.50,348.57 L434.00,348.59 L434.50,348.60 L435.00,348.62 L435.50,348.63 L436.00,348.64 L436.50,348.66 L437.00,348.67 L437.50,348.68 L438.00,348.69 L438.50,348.71 L439.00,348.72 L439.50,348.73 L440.00,348.74 L440.50,348.75 L441.00,348.76 L441.50,348.77 L442.00,348.78 L442.50,348.79 L443.00,348.80 L443.50,348.80 L444.00,348.81 L444.50,348.82 L445.00,348.83 L445.50,348.84 L446.00,348.84 L446.50,348.85 L447.00,348.86 L447.50,348.87 L448.00,348.87 L448.50,348.88 L449.00,348.89 L449.50,348.89 L450.00,348.90 L450.50,348.91 L451.00,348.91 L451.50,348.92 L452.00,348.92 L452.50,348.93 L453.00,348.93" fill="none" stroke="#ff6e6e" stroke-width="1.05" stroke-linejoin="round"/>
<path d="M251.00,349.10 L251.50,349.10 L252.00,349.10 L252.50,349.10 L253.00,349.09 L253.50,349.09 L254.00,349.09 L254.50,349.09 L255.00,349.09 L255.50,349.08 L256.00,349.08 L256.50,349.08 L257.00,349.08 L257.50,349.08 L258.00,349.07 L258.50,349.07 L259.00,349.07 L259.50,349.07 L260.00,349.06 L260.50,349.06 L261.00,349.06 L261.50,349.06 L262.00,349.06 L262.50,349.05 L263.00,349.05 L263.50,349.05 L264.00,349.04 L264.50,349.04 L265.00,349.04 L265.50,349.04 L266.00,349.03 L266.50,349.03 L267.00,349.03 L267.50,349.03 L268.00,349.02 L268.50,349.02 L269.00,349.02 L269.50,349.01 L270.00,349.01 L270.50,349.01 L271.00,349.00 L271.50,349.00 L272.00,349.00 L272.50,348.99 L273.00,348.99 L273.50,348.99 L274.00,348.98 L274.50,348.98 L275.00,348.98 L275.50,348.97 L276.00,348.97 L276.50,348.96 L277.00,348.96 L277.50,348.96 L278.00,348.95 L278.50,348.95 L279.00,348.94 L279.50,348.94 L280.00,348.93 L280.50,348.93 L281.00,348.92 L281.50,348.92 L282.00,348.92 L282.50,348.91 L283.00,348.91 L283.50,348.90 L284.00,348.89 L284.50,348.89 L285.00,348.88 L285.50,348.88 L286.00,348.87 L286.50,348.87 L287.00,348.86 L287.50,348.86 L288.00,348.85 L288.50,348.84 L289.00,348.84 L289.50,348.83 L290.00,348.82 L290.50,348.82 L291.00,348.81 L291.50,348.80 L292.00,348.80 L292.50,348.79 L293.00,348.78 L293.50,348.77 L294.00,348.77 L294.50,348.76 L295.00,348.75 L295.50,348.74 L296.00,348.73 L296.50,348.72 L297.00,348.71 L297.50,348.71 L298.00,348.70 L298.50,348.69 L299.00,348.68 L299.50,348.67 L300.00,348.66 L300.50,348.65 L301.00,348.63 L301.50,348.62 L302.00,348.61 L302.50,348.60 L303.00,348.59 L303.50,348.58 L304.00,348.56 L304.50,348.55 L305.00,348.54 L305.50,348.52 L306.00,348.51 L306.50,348.49 L307.00,348.48 L307.50,348.46 L308.00,348.45 L308.50,348.43 L309.00,348.42 L309.50,348.40 L310.00,348.38 L310.50,348.36 L311.00,348.34 L311.50,348.32 L312.00,348.30 L312.50,348.28 L313.00,348.26 L313.50,348.24 L314.00,348.22 L314.50,348.19 L315.00,348.16 L315.50,348.14 L316.00,348.11 L316.50,348.08 L317.00,348.04 L317.50,348.01 L318.00,347.97 L318.50,347.93 L319.00,347.89 L319.50,347.85 L320.00,347.80 L320.50,347.74 L321.00,347.68 L321.50,347.62 L322.00,347.55 L322.50,347.47 L323.00,347.39 L323.50,347.29 L324.00,347.19 L324.50,347.07 L325.00,346.94 L325.50,346.79 L326.00,346.63 L326.50,346.45 L327.00,346.25 L327.50,346.03 L328.00,345.77 L328.50,345.50 L329.00,345.18 L329.50,344.84 L330.00,344.45 L330.50,344.02 L331.00,343.55 L331.50,343.02 L332.00,342.44 L332.50,341.80 L333.00,341.09 L333.50,340.32 L334.00,339.46 L334.50,338.53 L335.00,337.50 L335.50,336.39 L336.00,335.17 L336.50,333.86 L337.00,332.43 L337.50,330.89 L338.00,329.23 L338.50,327.44 L339.00,325.53 L339.50,323.48 L340.00,321.30 L340.50,318.98 L341.00,316.52 L341.50,313.92 L342.00,311.18 L342.50,308.29 L343.00,305.27 L343.50,302.11 L344.00,298.82 L344.50,295.40 L345.00,291.87 L345.50,288.22 L346.00,284.47 L346.50,280.62 L347.00,276.70 L347.50,272.71 L348.00,268.66 L348.50,264.58 L349.00,260.49 L349.50,256.38 L350.00,252.30 L350.50,248.26 L351.00,244.27 L351.50,240.37 L352.00,236.57 L352.50,232.89 L353.00,229.36 L353.50,226.01 L354.00,222.84 L354.50,219.90 L355.00,217.19 L355.50,214.73 L356.00,212.56 L356.50,210.68 L357.00,209.11 L357.50,207.86 L358.00,206.95 L358.50,206.38 L359.00,206.15 L359.50,206.24 L360.00,206.58 L360.50,207.16 L361.00,207.98 L361.50,209.03 L362.00,210.32 L362.50,211.82 L363.00,213.54 L363.50,215.46 L364.00,217.58 L364.50,219.87 L365.00,222.33 L365.50,224.95 L366.00,227.71 L366.50,230.59 L367.00,233.60 L367.50,236.70 L368.00,239.89 L368.50,243.16 L369.00,246.49 L369.50,249.87 L370.00,253.28 L370.50,256.72 L371.00,260.16 L371.50,263.61 L372.00,267.05 L372.50,270.46 L373.00,273.85 L373.50,277.19 L374.00,280.49 L374.50,283.73 L375.00,286.91 L375.50,290.01 L376.00,293.04 L376.50,295.99 L377.00,298.86 L377.50,301.63 L378.00,304.31 L378.50,306.90 L379.00,309.39 L379.50,311.78 L380.00,314.07 L380.50,316.26 L381.00,318.35 L381.50,320.34 L382.00,322.23 L382.50,324.03 L383.00,325.73 L383.50,327.34 L384.00,328.85 L384.50,330.28 L385.00,331.62 L385.50,332.88 L386.00,334.06 L386.50,335.16 L387.00,336.19 L387.50,337.14 L388.00,338.03 L388.50,338.86 L389.00,339.63 L389.50,340.34 L390.00,341.00 L390.50,341.60 L391.00,342.16 L391.50,342.68 L392.00,343.15 L392.50,343.59 L393.00,343.99 L393.50,344.35 L394.00,344.69 L394.50,344.99 L395.00,345.28 L395.50,345.53 L396.00,345.76 L396.50,345.98 L397.00,346.17 L397.50,346.35 L398.00,346.51 L398.50,346.66 L399.00,346.79 L399.50,346.92 L400.00,347.03 L400.50,347.13 L401.00,347.23 L401.50,347.31 L402.00,347.39 L402.50,347.46 L403.00,347.53 L403.50,347.59 L404.00,347.65 L404.50,347.70 L405.00,347.75 L405.50,347.79 L406.00,347.84 L406.50,347.88 L407.00,347.91 L407.50,347.95 L408.00,347.98 L408.50,348.01 L409.00,348.04 L409.50,348.07 L410.00,348.09 L410.50,348.12 L411.00,348.14 L411.50,348.16 L412.00,348.19 L412.50,348.21 L413.00,348.23 L413.50,348.25 L414.00,348.27 L414.50,348.29 L415.00,348.30 L415.50,348.32 L416.00,348.34 L416.50,348.35 L417.00,348.37 L417.50,348.38 L418.00,348.40 L418.50,348.41 L419.00,348.43 L419.50,348.44 L420.00,348.45 L420.50,348.47 L421.00,348.48 L421.50,348.49 L422.00,348.50 L422.50,348.52 L423.00,348.53 L423.50,348.54 L424.00,348.55 L424.50,348.56 L425.00,348.57 L425.50,348.58 L426.00,348.59 L426.50,348.60 L427.00,348.61 L427.50,348.62 L428.00,348.63 L428.50,348.64 L429.00,348.65 L429.50,348.66 L430.00,348.67 L430.50,348.68 L431.00,348.68 L431.50,348.69 L432.00,348.70 L432.50,348.71 L433.00,348.72 L433.50,348.72 L434.00,348.73 L434.50,348.74 L435.00,348.75 L435.50,348.75 L436.00,348.76 L436.50,348.77 L437.00,348.77 L437.50,348.78 L438.00,348.79 L438.50,348.79 L439.00,348.80 L439.50,348.80 L440.00,348.81 L440.50,348.82 L441.00,348.82 L441.50,348.83 L442.00,348.83 L442.50,348.84 L443.00,348.84 L443.50,348.85 L444.00,348.85 L444.50,348.86 L445.00,348.86 L445.50,348.87 L446.00,348.87 L446.50,348.88 L447.00,348.88 L447.50,348.89 L448.00,348.89 L448.50,348.90 L449.00,348.90 L449.50,348.90 L450.00,348.91 L450.50,348.91 L451.00,348.92 L451.50,348.92 L452.00,348.93 L452.50,348.93 L453.00,348.93" fill="none" stroke="#5293ea" stroke-width="1.05" stroke-linejoin="round"/>
<path d="M251.00,348.95 L251.50,348.95 L252.00,348.94 L252.50,348.94 L253.00,348.94 L253.50,348.93 L254.00,348.93 L254.50,348.93 L255.00,348.93 L255.50,348.92 L256.00,348.92 L256.50,348.92 L257.00,348.91 L257.50,348.91 L258.00,348.91 L258.50,348.90 L259.00,348.90 L259.50,348.89 L260.00,348.89 L260.50,348.89 L261.00,348.88 L261.50,348.88 L262.00,348.88 L262.50,348.87 L263.00,348.87 L263.50,348.86 L264.00,348.86 L264.50,348.86 L265.00,348.85 L265.50,348.85 L266.00,348.84 L266.50,348.84 L267.00,348.83 L267.50,348.83 L268.00,348.82 L268.50,348.82 L269.00,348.82 L269.50,348.81 L270.00,348.81 L270.50,348.80 L271.00,348.80 L271.50,348.79 L272.00,348.79 L272.50,348.78 L273.00,348.77 L273.50,348.77 L274.00,348.76 L274.50,348.76 L275.00,348.75 L275.50,348.75 L276.00,348.74 L276.50,348.74 L277.00,348.73 L277.50,348.72 L278.00,348.72 L278.50,348.71 L279.00,348.70 L279.50,348.70 L280.00,348.69 L280.50,348.68 L281.00,348.68 L281.50,348.67 L282.00,348.66 L282.50,348.66 L283.00,348.65 L283.50,348.64 L284.00,348.63 L284.50,348.62 L285.00,348.62 L285.50,348.61 L286.00,348.60 L286.50,348.59 L287.00,348.58 L287.50,348.57 L288.00,348.57 L288.50,348.56 L289.00,348.55 L289.50,348.54 L290.00,348.53 L290.50,348.52 L291.00,348.51 L291.50,348.50 L292.00,348.49 L292.50,348.48 L293.00,348.47 L293.50,348.46 L294.00,348.45 L294.50,348.43 L295.00,348.42 L295.50,348.41 L296.00,348.40 L296.50,348.39 L297.00,348.37 L297.50,348.36 L298.00,348.35 L298.50,348.33 L299.00,348.32 L299.50,348.31 L300.00,348.29 L300.50,348.28 L301.00,348.26 L301.50,348.25 L302.00,348.23 L302.50,348.22 L303.00,348.20 L303.50,348.18 L304.00,348.16 L304.50,348.15 L305.00,348.13 L305.50,348.11 L306.00,348.09 L306.50,348.07 L307.00,348.05 L307.50,348.03 L308.00,348.01 L308.50,347.99 L309.00,347.97 L309.50,347.94 L310.00,347.92 L310.50,347.90 L311.00,347.87 L311.50,347.84 L312.00,347.82 L312.50,347.79 L313.00,347.76 L313.50,347.73 L314.00,347.70 L314.50,347.67 L315.00,347.63 L315.50,347.60 L316.00,347.56 L316.50,347.52 L317.00,347.47 L317.50,347.43 L318.00,347.38 L318.50,347.33 L319.00,347.27 L319.50,347.21 L320.00,347.15 L320.50,347.08 L321.00,347.00 L321.50,346.92 L322.00,346.83 L322.50,346.73 L323.00,346.62 L323.50,346.50 L324.00,346.37 L324.50,346.22 L325.00,346.06 L325.50,345.88 L326.00,345.68 L326.50,345.47 L327.00,345.22 L327.50,344.95 L328.00,344.66 L328.50,344.33 L329.00,343.96 L329.50,343.56 L330.00,343.12 L330.50,342.63 L331.00,342.09 L331.50,341.49 L332.00,340.84 L332.50,340.13 L333.00,339.35 L333.50,338.49 L334.00,337.56 L334.50,336.55 L335.00,335.45 L335.50,334.26 L336.00,332.97 L336.50,331.57 L337.00,330.08 L337.50,328.47 L338.00,326.74 L338.50,324.89 L339.00,322.93 L339.50,320.83 L340.00,318.61 L340.50,316.26 L341.00,313.77 L341.50,311.16 L342.00,308.41 L342.50,305.53 L343.00,302.52 L343.50,299.38 L344.00,296.13 L344.50,292.76 L345.00,289.28 L345.50,285.69 L346.00,282.01 L346.50,278.25 L347.00,274.41 L347.50,270.51 L348.00,266.56 L348.50,262.58 L349.00,258.57 L349.50,254.56 L350.00,250.56 L350.50,246.59 L351.00,242.67 L351.50,238.81 L352.00,235.03 L352.50,231.36 L353.00,227.81 L353.50,224.40 L354.00,221.15 L354.50,218.08 L355.00,215.21 L355.50,212.55 L356.00,210.12 L356.50,207.94 L357.00,206.01 L357.50,204.34 L358.00,202.96 L358.50,201.86 L359.00,201.04 L359.50,200.50 L360.00,200.17 L360.50,200.03 L361.00,200.09 L361.50,200.34 L362.00,200.78 L362.50,201.39 L363.00,202.18 L363.50,203.13 L364.00,204.23 L364.50,205.48 L365.00,206.87 L365.50,208.38 L366.00,210.00 L366.50,211.72 L367.00,213.54 L367.50,215.43 L368.00,217.39 L368.50,219.40 L369.00,221.45 L369.50,223.53 L370.00,225.64 L370.50,227.75 L371.00,229.85 L371.50,231.95 L372.00,234.02 L372.50,236.06 L373.00,238.07 L373.50,240.03 L374.00,241.93 L374.50,243.78 L375.00,245.56 L375.50,247.28 L376.00,248.93 L376.50,250.50 L377.00,252.01 L377.50,253.43 L378.00,254.79 L378.50,256.07 L379.00,257.28 L379.50,258.42 L380.00,259.49 L380.50,260.51 L381.00,261.46 L381.50,262.37 L382.00,263.22 L382.50,264.04 L383.00,264.82 L383.50,265.57 L384.00,266.30 L384.50,267.00 L385.00,267.70 L385.50,268.40 L386.00,269.09 L386.50,269.80 L387.00,270.51 L387.50,271.25 L388.00,272.00 L388.50,272.79 L389.00,273.65 L389.50,274.61 L390.00,275.68 L390.50,276.87 L391.00,278.15 L391.50,279.54 L392.00,281.03 L392.50,282.60 L393.00,284.26 L393.50,286.00 L394.00,287.81 L394.50,289.68 L395.00,291.61 L395.50,293.57 L396.00,295.57 L396.50,297.60 L397.00,299.65 L397.50,301.70 L398.00,303.76 L398.50,305.81 L399.00,307.85 L399.50,309.86 L400.00,311.85 L400.50,313.80 L401.00,315.71 L401.50,317.58 L402.00,319.39 L402.50,321.16 L403.00,322.86 L403.50,324.51 L404.00,326.09 L404.50,327.60 L405.00,329.06 L405.50,330.44 L406.00,331.75 L406.50,333.00 L407.00,334.18 L407.50,335.30 L408.00,336.34 L408.50,337.33 L409.00,338.25 L409.50,339.11 L410.00,339.91 L410.50,340.65 L411.00,341.34 L411.50,341.98 L412.00,342.57 L412.50,343.12 L413.00,343.62 L413.50,344.07 L414.00,344.49 L414.50,344.88 L415.00,345.23 L415.50,345.54 L416.00,345.83 L416.50,346.10 L417.00,346.34 L417.50,346.55 L418.00,346.75 L418.50,346.92 L419.00,347.08 L419.50,347.23 L420.00,347.36 L420.50,347.47 L421.00,347.58 L421.50,347.68 L422.00,347.76 L422.50,347.84 L423.00,347.91 L423.50,347.98 L424.00,348.04 L424.50,348.09 L425.00,348.14 L425.50,348.18 L426.00,348.22 L426.50,348.26 L427.00,348.29 L427.50,348.33 L428.00,348.36 L428.50,348.38 L429.00,348.41 L429.50,348.43 L430.00,348.46 L430.50,348.48 L431.00,348.50 L431.50,348.52 L432.00,348.54 L432.50,348.55 L433.00,348.57 L433.50,348.59 L434.00,348.60 L434.50,348.62 L435.00,348.63 L435.50,348.64 L436.00,348.66 L436.50,348.67 L437.00,348.68 L437.50,348.69 L438.00,348.71 L438.50,348.72 L439.00,348.73 L439.50,348.74 L440.00,348.75 L440.50,348.76 L441.00,348.77 L441.50,348.78 L442.00,348.79 L442.50,348.80 L443.00,348.81 L443.50,348.81 L444.00,348.82 L444.50,348.83 L445.00,348.84 L445.50,348.85 L446.00,348.85 L446.50,348.86 L447.00,348.87 L447.50,348.88 L448.00,348.88 L448.50,348.89 L449.00,348.90 L449.50,348.90 L450.00,348.91 L450.50,348.91 L451.00,348.92 L451.50,348.93 L452.00,348.93 L452.50,348.94 L453.00,348.94" fill="none" stroke="#c6a04e" stroke-width="1.15" stroke-linejoin="round"/>
<path d="M489.00,345.75 L489.50,345.75 L490.00,345.75 L490.50,345.75 L491.00,345.75 L491.50,345.75 L492.00,345.75 L492.50,345.75 L493.00,345.75 L493.50,345.75 L494.00,345.75 L494.50,345.75 L495.00,345.75 L495.50,345.75 L496.00,345.75 L496.50,345.74 L497.00,345.74 L497.50,345.74 L498.00,345.74 L498.50,345.74 L499.00,345.74 L499.50,345.74 L500.00,345.74 L500.50,345.74 L501.00,345.74 L501.50,345.74 L502.00,345.74 L502.50,345.74 L503.00,345.74 L503.50,345.74 L504.00,345.74 L504.50,345.74 L505.00,345.74 L505.50,345.73 L506.00,345.73 L506.50,345.73 L507.00,345.73 L507.50,345.73 L508.00,345.73 L508.50,345.73 L509.00,345.73 L509.50,345.73 L510.00,345.73 L510.50,345.73 L511.00,345.73 L511.50,345.73 L512.00,345.73 L512.50,345.72 L513.00,345.72 L513.50,345.72 L514.00,345.72 L514.50,345.72 L515.00,345.72 L515.50,345.72 L516.00,345.72 L516.50,345.72 L517.00,345.72 L517.50,345.72 L518.00,345.72 L518.50,345.71 L519.00,345.71 L519.50,345.71 L520.00,345.71 L520.50,345.71 L521.00,345.71 L521.50,345.71 L522.00,345.71 L522.50,345.71 L523.00,345.71 L523.50,345.70 L524.00,345.70 L524.50,345.70 L525.00,345.70 L525.50,345.70 L526.00,345.70 L526.50,345.70 L527.00,345.70 L527.50,345.69 L528.00,345.69 L528.50,345.69 L529.00,345.69 L529.50,345.69 L530.00,345.69 L530.50,345.69 L531.00,345.68 L531.50,345.68 L532.00,345.68 L532.50,345.68 L533.00,345.68 L533.50,345.68 L534.00,345.68 L534.50,345.67 L535.00,345.67 L535.50,345.67 L536.00,345.67 L536.50,345.67 L537.00,345.66 L537.50,345.66 L538.00,345.66 L538.50,345.66 L539.00,345.66 L539.50,345.65 L540.00,345.65 L540.50,345.65 L541.00,345.65 L541.50,345.65 L542.00,345.64 L542.50,345.64 L543.00,345.64 L543.50,345.64 L544.00,345.63 L544.50,345.63 L545.00,345.63 L545.50,345.63 L546.00,345.62 L546.50,345.62 L547.00,345.62 L547.50,345.61 L548.00,345.61 L548.50,345.61 L549.00,345.60 L549.50,345.60 L550.00,345.60 L550.50,345.59 L551.00,345.59 L551.50,345.59 L552.00,345.58 L552.50,345.58 L553.00,345.58 L553.50,345.57 L554.00,345.57 L554.50,345.56 L555.00,345.56 L555.50,345.55 L556.00,345.55 L556.50,345.54 L557.00,345.54 L557.50,345.53 L558.00,345.52 L558.50,345.52 L559.00,345.51 L559.50,345.50 L560.00,345.50 L560.50,345.49 L561.00,345.48 L561.50,345.47 L562.00,345.46 L562.50,345.45 L563.00,345.44 L563.50,345.42 L564.00,345.41 L564.50,345.39 L565.00,345.38 L565.50,345.36 L566.00,345.34 L566.50,345.32 L567.00,345.29 L567.50,345.26 L568.00,345.23 L568.50,345.20 L569.00,345.16 L569.50,345.12 L570.00,345.08 L570.50,345.03 L571.00,344.97 L571.50,344.91 L572.00,344.84 L572.50,344.77 L573.00,344.68 L573.50,344.59 L574.00,344.49 L574.50,344.38 L575.00,344.25 L575.50,344.12 L576.00,343.97 L576.50,343.80 L577.00,343.63 L577.50,343.43 L578.00,343.22 L578.50,342.99 L579.00,342.74 L579.50,342.47 L580.00,342.18 L580.50,341.86 L581.00,341.52 L581.50,341.15 L582.00,340.76 L582.50,340.33 L583.00,339.88 L583.50,339.40 L584.00,338.89 L584.50,338.35 L585.00,337.77 L585.50,337.17 L586.00,336.53 L586.50,335.85 L587.00,335.14 L587.50,334.40 L588.00,333.63 L588.50,332.82 L589.00,331.99 L589.50,331.12 L590.00,330.22 L590.50,329.30 L591.00,328.35 L591.50,327.37 L592.00,326.38 L592.50,325.37 L593.00,324.33 L593.50,323.29 L594.00,322.24 L594.50,321.18 L595.00,320.12 L595.50,319.05 L596.00,318.00 L596.50,316.95 L597.00,315.92 L597.50,314.91 L598.00,313.92 L598.50,312.96 L599.00,312.03 L599.50,311.14 L600.00,310.30 L600.50,309.50 L601.00,308.75 L601.50,308.05 L602.00,307.42 L602.50,306.85 L603.00,306.35 L603.50,305.93 L604.00,305.57 L604.50,305.29 L605.00,305.09 L605.50,304.97 L606.00,304.93 L606.50,304.97 L607.00,305.09 L607.50,305.28 L608.00,305.56 L608.50,305.90 L609.00,306.32 L609.50,306.81 L610.00,307.37 L610.50,307.99 L611.00,308.66 L611.50,309.40 L612.00,310.18 L612.50,311.01 L613.00,311.88 L613.50,312.80 L614.00,313.74 L614.50,314.71 L615.00,315.71 L615.50,316.72 L616.00,317.75 L616.50,318.79 L617.00,319.84 L617.50,320.89 L618.00,321.94 L618.50,322.98 L619.00,324.02 L619.50,325.04 L620.00,326.05 L620.50,327.04 L621.00,328.01 L621.50,328.96 L622.00,329.88 L622.50,330.78 L623.00,331.64 L623.50,332.48 L624.00,333.29 L624.50,334.07 L625.00,334.82 L625.50,335.53 L626.00,336.21 L626.50,336.86 L627.00,337.48 L627.50,338.06 L628.00,338.62 L628.50,339.14 L629.00,339.63 L629.50,340.09 L630.00,340.52 L630.50,340.93 L631.00,341.31 L631.50,341.66 L632.00,341.99 L632.50,342.29 L633.00,342.57 L633.50,342.83 L634.00,343.07 L634.50,343.29 L635.00,343.50 L635.50,343.68 L636.00,343.85 L636.50,344.01 L637.00,344.15 L637.50,344.29 L638.00,344.40 L638.50,344.51 L639.00,344.61 L639.50,344.70 L640.00,344.78 L640.50,344.85 L641.00,344.92 L641.50,344.98 L642.00,345.04 L642.50,345.08 L643.00,345.13 L643.50,345.17 L644.00,345.20 L644.50,345.24 L645.00,345.27 L645.50,345.29 L646.00,345.32 L646.50,345.34 L647.00,345.36 L647.50,345.38 L648.00,345.40 L648.50,345.41 L649.00,345.42 L649.50,345.44 L650.00,345.45 L650.50,345.46 L651.00,345.47 L651.50,345.48 L652.00,345.49 L652.50,345.50 L653.00,345.50 L653.50,345.51 L654.00,345.52 L654.50,345.52 L655.00,345.53 L655.50,345.54 L656.00,345.54 L656.50,345.55 L657.00,345.55 L657.50,345.56 L658.00,345.56 L658.50,345.57 L659.00,345.57 L659.50,345.57 L660.00,345.58 L660.50,345.58 L661.00,345.59 L661.50,345.59 L662.00,345.59 L662.50,345.60 L663.00,345.60 L663.50,345.60 L664.00,345.61 L664.50,345.61 L665.00,345.61 L665.50,345.62 L666.00,345.62 L666.50,345.62 L667.00,345.62 L667.50,345.63 L668.00,345.63 L668.50,345.63 L669.00,345.63 L669.50,345.64 L670.00,345.64 L670.50,345.64 L671.00,345.64 L671.50,345.65 L672.00,345.65 L672.50,345.65 L673.00,345.65 L673.50,345.66 L674.00,345.66 L674.50,345.66 L675.00,345.66 L675.50,345.66 L676.00,345.67 L676.50,345.67 L677.00,345.67 L677.50,345.67 L678.00,345.67 L678.50,345.67 L679.00,345.68 L679.50,345.68 L680.00,345.68 L680.50,345.68 L681.00,345.68 L681.50,345.68 L682.00,345.68 L682.50,345.69 L683.00,345.69" fill="none" stroke="#ff6e6e" stroke-width="1.05" stroke-linejoin="round"/>
<path d="M489.00,345.75 L489.50,345.75 L490.00,345.75 L490.50,345.75 L491.00,345.75 L491.50,345.75 L492.00,345.75 L492.50,345.74 L493.00,345.74 L493.50,345.74 L494.00,345.74 L494.50,345.74 L495.00,345.74 L495.50,345.74 L496.00,345.74 L496.50,345.74 L497.00,345.74 L497.50,345.74 L498.00,345.74 L498.50,345.74 L499.00,345.74 L499.50,345.73 L500.00,345.73 L500.50,345.73 L501.00,345.73 L501.50,345.73 L502.00,345.73 L502.50,345.73 L503.00,345.73 L503.50,345.73 L504.00,345.73 L504.50,345.73 L505.00,345.72 L505.50,345.72 L506.00,345.72 L506.50,345.72 L507.00,345.72 L507.50,345.72 L508.00,345.72 L508.50,345.72 L509.00,345.72 L509.50,345.72 L510.00,345.71 L510.50,345.71 L511.00,345.71 L511.50,345.71 L512.00,345.71 L512.50,345.71 L513.00,345.71 L513.50,345.70 L514.00,345.70 L514.50,345.70 L515.00,345.70 L515.50,345.70 L516.00,345.70 L516.50,345.70 L517.00,345.69 L517.50,345.69 L518.00,345.69 L518.50,345.69 L519.00,345.69 L519.50,345.69 L520.00,345.68 L520.50,345.68 L521.00,345.68 L521.50,345.68 L522.00,345.68 L522.50,345.67 L523.00,345.67 L523.50,345.67 L524.00,345.67 L524.50,345.66 L525.00,345.66 L525.50,345.66 L526.00,345.66 L526.50,345.66 L527.00,345.65 L527.50,345.65 L528.00,345.65 L528.50,345.64 L529.00,345.64 L529.50,345.64 L530.00,345.63 L530.50,345.63 L531.00,345.63 L531.50,345.62 L532.00,345.62 L532.50,345.62 L533.00,345.61 L533.50,345.61 L534.00,345.61 L534.50,345.60 L535.00,345.60 L535.50,345.59 L536.00,345.59 L536.50,345.58 L537.00,345.58 L537.50,345.57 L538.00,345.57 L538.50,345.56 L539.00,345.56 L539.50,345.55 L540.00,345.54 L540.50,345.54 L541.00,345.53 L541.50,345.52 L542.00,345.51 L542.50,345.50 L543.00,345.49 L543.50,345.48 L544.00,345.47 L544.50,345.45 L545.00,345.44 L545.50,345.42 L546.00,345.39 L546.50,345.37 L547.00,345.34 L547.50,345.30 L548.00,345.26 L548.50,345.22 L549.00,345.16 L549.50,345.10 L550.00,345.02 L550.50,344.93 L551.00,344.83 L551.50,344.70 L552.00,344.56 L552.50,344.39 L553.00,344.20 L553.50,343.98 L554.00,343.72 L554.50,343.41 L555.00,343.07 L555.50,342.67 L556.00,342.21 L556.50,341.69 L557.00,341.10 L557.50,340.42 L558.00,339.66 L558.50,338.80 L559.00,337.84 L559.50,336.76 L560.00,335.56 L560.50,334.22 L561.00,332.74 L561.50,331.11 L562.00,329.32 L562.50,327.37 L563.00,325.23 L563.50,322.92 L564.00,320.42 L564.50,317.72 L565.00,314.83 L565.50,311.75 L566.00,308.47 L566.50,305.00 L567.00,301.35 L567.50,297.52 L568.00,293.52 L568.50,289.36 L569.00,285.07 L569.50,280.65 L570.00,276.13 L570.50,271.54 L571.00,266.89 L571.50,262.21 L572.00,257.54 L572.50,252.91 L573.00,248.35 L573.50,243.89 L574.00,239.57 L574.50,235.42 L575.00,231.47 L575.50,227.77 L576.00,224.35 L576.50,221.23 L577.00,218.45 L577.50,216.03 L578.00,214.00 L578.50,212.38 L579.00,211.18 L579.50,210.42 L580.00,210.11 L580.50,210.22 L581.00,210.72 L581.50,211.59 L582.00,212.83 L582.50,214.42 L583.00,216.36 L583.50,218.62 L584.00,221.19 L584.50,224.04 L585.00,227.15 L585.50,230.50 L586.00,234.05 L586.50,237.79 L587.00,241.69 L587.50,245.71 L588.00,249.84 L588.50,254.04 L589.00,258.29 L589.50,262.56 L590.00,266.83 L590.50,271.08 L591.00,275.29 L591.50,279.43 L592.00,283.49 L592.50,287.46 L593.00,291.31 L593.50,295.04 L594.00,298.63 L594.50,302.08 L595.00,305.38 L595.50,308.52 L596.00,311.50 L596.50,314.32 L597.00,316.97 L597.50,319.47 L598.00,321.80 L598.50,323.98 L599.00,326.00 L599.50,327.87 L600.00,329.60 L600.50,331.19 L601.00,332.65 L601.50,333.98 L602.00,335.20 L602.50,336.30 L603.00,337.30 L603.50,338.21 L604.00,339.02 L604.50,339.76 L605.00,340.41 L605.50,341.00 L606.00,341.52 L606.50,341.98 L607.00,342.40 L607.50,342.76 L608.00,343.08 L608.50,343.36 L609.00,343.61 L609.50,343.83 L610.00,344.02 L610.50,344.19 L611.00,344.34 L611.50,344.47 L612.00,344.58 L612.50,344.68 L613.00,344.76 L613.50,344.83 L614.00,344.90 L614.50,344.96 L615.00,345.01 L615.50,345.05 L616.00,345.09 L616.50,345.12 L617.00,345.15 L617.50,345.18 L618.00,345.21 L618.50,345.23 L619.00,345.25 L619.50,345.27 L620.00,345.28 L620.50,345.30 L621.00,345.31 L621.50,345.33 L622.00,345.34 L622.50,345.35 L623.00,345.36 L623.50,345.37 L624.00,345.38 L624.50,345.39 L625.00,345.40 L625.50,345.41 L626.00,345.42 L626.50,345.42 L627.00,345.43 L627.50,345.44 L628.00,345.45 L628.50,345.45 L629.00,345.46 L629.50,345.47 L630.00,345.47 L630.50,345.48 L631.00,345.49 L631.50,345.49 L632.00,345.50 L632.50,345.50 L633.00,345.51 L633.50,345.51 L634.00,345.52 L634.50,345.52 L635.00,345.53 L635.50,345.53 L636.00,345.54 L636.50,345.54 L637.00,345.55 L637.50,345.55 L638.00,345.55 L638.50,345.56 L639.00,345.56 L639.50,345.57 L640.00,345.57 L640.50,345.57 L641.00,345.58 L641.50,345.58 L642.00,345.58 L642.50,345.59 L643.00,345.59 L643.50,345.59 L644.00,345.60 L644.50,345.60 L645.00,345.60 L645.50,345.61 L646.00,345.61 L646.50,345.61 L647.00,345.61 L647.50,345.62 L648.00,345.62 L648.50,345.62 L649.00,345.62 L649.50,345.63 L650.00,345.63 L650.50,345.63 L651.00,345.63 L651.50,345.64 L652.00,345.64 L652.50,345.64 L653.00,345.64 L653.50,345.65 L654.00,345.65 L654.50,345.65 L655.00,345.65 L655.50,345.65 L656.00,345.65 L656.50,345.66 L657.00,345.66 L657.50,345.66 L658.00,345.66 L658.50,345.66 L659.00,345.67 L659.50,345.67 L660.00,345.67 L660.50,345.67 L661.00,345.67 L661.50,345.67 L662.00,345.68 L662.50,345.68 L663.00,345.68 L663.50,345.68 L664.00,345.68 L664.50,345.68 L665.00,345.68 L665.50,345.68 L666.00,345.69 L666.50,345.69 L667.00,345.69 L667.50,345.69 L668.00,345.69 L668.50,345.69 L669.00,345.69 L669.50,345.69 L670.00,345.70 L670.50,345.70 L671.00,345.70 L671.50,345.70 L672.00,345.70 L672.50,345.70 L673.00,345.70 L673.50,345.70 L674.00,345.70 L674.50,345.71 L675.00,345.71 L675.50,345.71 L676.00,345.71 L676.50,345.71 L677.00,345.71 L677.50,345.71 L678.00,345.71 L678.50,345.71 L679.00,345.71 L679.50,345.71 L680.00,345.72 L680.50,345.72 L681.00,345.72 L681.50,345.72 L682.00,345.72 L682.50,345.72 L683.00,345.72" fill="none" stroke="#5293ea" stroke-width="1.05" stroke-linejoin="round"/>
<path d="M489.00,345.72 L489.50,345.72 L490.00,345.72 L490.50,345.71 L491.00,345.71 L491.50,345.71 L492.00,345.71 L492.50,345.71 L493.00,345.71 L493.50,345.71 L494.00,345.71 L494.50,345.71 L495.00,345.71 L495.50,345.70 L496.00,345.70 L496.50,345.70 L497.00,345.70 L497.50,345.70 L498.00,345.70 L498.50,345.70 L499.00,345.70 L499.50,345.70 L500.00,345.69 L500.50,345.69 L501.00,345.69 L501.50,345.69 L502.00,345.69 L502.50,345.69 L503.00,345.69 L503.50,345.69 L504.00,345.68 L504.50,345.68 L505.00,345.68 L505.50,345.68 L506.00,345.68 L506.50,345.68 L507.00,345.68 L507.50,345.67 L508.00,345.67 L508.50,345.67 L509.00,345.67 L509.50,345.67 L510.00,345.67 L510.50,345.66 L511.00,345.66 L511.50,345.66 L512.00,345.66 L512.50,345.66 L513.00,345.66 L513.50,345.65 L514.00,345.65 L514.50,345.65 L515.00,345.65 L515.50,345.65 L516.00,345.64 L516.50,345.64 L517.00,345.64 L517.50,345.64 L518.00,345.63 L518.50,345.63 L519.00,345.63 L519.50,345.63 L520.00,345.62 L520.50,345.62 L521.00,345.62 L521.50,345.62 L522.00,345.61 L522.50,345.61 L523.00,345.61 L523.50,345.60 L524.00,345.60 L524.50,345.60 L525.00,345.60 L525.50,345.59 L526.00,345.59 L526.50,345.58 L527.00,345.58 L527.50,345.58 L528.00,345.57 L528.50,345.57 L529.00,345.57 L529.50,345.56 L530.00,345.56 L530.50,345.55 L531.00,345.55 L531.50,345.54 L532.00,345.54 L532.50,345.54 L533.00,345.53 L533.50,345.53 L534.00,345.52 L534.50,345.51 L535.00,345.51 L535.50,345.50 L536.00,345.50 L536.50,345.49 L537.00,345.48 L537.50,345.48 L538.00,345.47 L538.50,345.46 L539.00,345.46 L539.50,345.45 L540.00,345.44 L540.50,345.43 L541.00,345.42 L541.50,345.41 L542.00,345.40 L542.50,345.38 L543.00,345.37 L543.50,345.35 L544.00,345.34 L544.50,345.31 L545.00,345.29 L545.50,345.27 L546.00,345.24 L546.50,345.20 L547.00,345.16 L547.50,345.12 L548.00,345.06 L548.50,345.00 L549.00,344.93 L549.50,344.84 L550.00,344.75 L550.50,344.63 L551.00,344.50 L551.50,344.35 L552.00,344.17 L552.50,343.97 L553.00,343.73 L553.50,343.46 L554.00,343.15 L554.50,342.79 L555.00,342.38 L555.50,341.92 L556.00,341.39 L556.50,340.79 L557.00,340.11 L557.50,339.35 L558.00,338.50 L558.50,337.54 L559.00,336.48 L559.50,335.29 L560.00,333.98 L560.50,332.54 L561.00,330.95 L561.50,329.21 L562.00,327.30 L562.50,325.24 L563.00,323.00 L563.50,320.58 L564.00,317.98 L564.50,315.20 L565.00,312.23 L565.50,309.07 L566.00,305.74 L566.50,302.22 L567.00,298.53 L567.50,294.68 L568.00,290.67 L568.50,286.52 L569.00,282.25 L569.50,277.87 L570.00,273.40 L570.50,268.87 L571.00,264.29 L571.50,259.70 L572.00,255.13 L572.50,250.59 L573.00,246.13 L573.50,241.77 L574.00,237.55 L574.50,233.50 L575.00,229.65 L575.50,226.03 L576.00,222.67 L576.50,219.60 L577.00,216.84 L577.50,214.43 L578.00,212.38 L578.50,210.70 L579.00,209.43 L579.50,208.55 L580.00,208.09 L580.50,208.03 L581.00,208.28 L581.50,208.85 L582.00,209.72 L582.50,210.89 L583.00,212.34 L583.50,214.06 L584.00,216.03 L584.50,218.24 L585.00,220.67 L585.50,223.29 L586.00,226.09 L586.50,229.03 L587.00,232.11 L587.50,235.28 L588.00,238.53 L588.50,241.84 L589.00,245.17 L589.50,248.51 L590.00,251.83 L590.50,255.11 L591.00,258.33 L591.50,261.48 L592.00,264.52 L592.50,267.46 L593.00,270.27 L593.50,272.95 L594.00,275.48 L594.50,277.86 L595.00,280.08 L595.50,282.14 L596.00,284.04 L596.50,285.77 L597.00,287.36 L597.50,288.79 L598.00,290.07 L598.50,291.22 L599.00,292.25 L599.50,293.16 L600.00,293.97 L600.50,294.69 L601.00,295.33 L601.50,295.92 L602.00,296.45 L602.50,296.96 L603.00,297.45 L603.50,297.94 L604.00,298.44 L604.50,298.96 L605.00,299.51 L605.50,300.11 L606.00,300.75 L606.50,301.43 L607.00,302.12 L607.50,302.83 L608.00,303.55 L608.50,304.30 L609.00,305.07 L609.50,305.86 L610.00,306.68 L610.50,307.53 L611.00,308.41 L611.50,309.31 L612.00,310.24 L612.50,311.19 L613.00,312.17 L613.50,313.16 L614.00,314.17 L614.50,315.19 L615.00,316.23 L615.50,317.27 L616.00,318.32 L616.50,319.38 L617.00,320.43 L617.50,321.48 L618.00,322.52 L618.50,323.56 L619.00,324.58 L619.50,325.59 L620.00,326.58 L620.50,327.55 L621.00,328.50 L621.50,329.43 L622.00,330.33 L622.50,331.21 L623.00,332.05 L623.50,332.87 L624.00,333.66 L624.50,334.41 L625.00,335.14 L625.50,335.83 L626.00,336.50 L626.50,337.13 L627.00,337.73 L627.50,338.29 L628.00,338.83 L628.50,339.34 L629.00,339.81 L629.50,340.26 L630.00,340.68 L630.50,341.07 L631.00,341.44 L631.50,341.78 L632.00,342.10 L632.50,342.39 L633.00,342.67 L633.50,342.92 L634.00,343.15 L634.50,343.37 L635.00,343.57 L635.50,343.75 L636.00,343.91 L636.50,344.07 L637.00,344.20 L637.50,344.33 L638.00,344.45 L638.50,344.55 L639.00,344.65 L639.50,344.73 L640.00,344.81 L640.50,344.88 L641.00,344.95 L641.50,345.01 L642.00,345.06 L642.50,345.11 L643.00,345.15 L643.50,345.19 L644.00,345.22 L644.50,345.25 L645.00,345.28 L645.50,345.31 L646.00,345.33 L646.50,345.35 L647.00,345.37 L647.50,345.39 L648.00,345.41 L648.50,345.42 L649.00,345.44 L649.50,345.45 L650.00,345.46 L650.50,345.47 L651.00,345.48 L651.50,345.49 L652.00,345.50 L652.50,345.50 L653.00,345.51 L653.50,345.52 L654.00,345.53 L654.50,345.53 L655.00,345.54 L655.50,345.54 L656.00,345.55 L656.50,345.55 L657.00,345.56 L657.50,345.56 L658.00,345.57 L658.50,345.57 L659.00,345.58 L659.50,345.58 L660.00,345.58 L660.50,345.59 L661.00,345.59 L661.50,345.60 L662.00,345.60 L662.50,345.60 L663.00,345.61 L663.50,345.61 L664.00,345.61 L664.50,345.62 L665.00,345.62 L665.50,345.62 L666.00,345.62 L666.50,345.63 L667.00,345.63 L667.50,345.63 L668.00,345.63 L668.50,345.64 L669.00,345.64 L669.50,345.64 L670.00,345.64 L670.50,345.65 L671.00,345.65 L671.50,345.65 L672.00,345.65 L672.50,345.66 L673.00,345.66 L673.50,345.66 L674.00,345.66 L674.50,345.66 L675.00,345.67 L675.50,345.67 L676.00,345.67 L676.50,345.67 L677.00,345.67 L677.50,345.67 L678.00,345.68 L678.50,345.68 L679.00,345.68 L679.50,345.68 L680.00,345.68 L680.50,345.68 L681.00,345.69 L681.50,345.69 L682.00,345.69 L682.50,345.69 L683.00,345.69" fill="none" stroke="#c6a04e" stroke-width="1.15" stroke-linejoin="round"/>
<line x1="80.00" y1="161.00" x2="101.00" y2="161.00" stroke="#1c3c8c" stroke-width="1.6"/>
<line x1="101.00" y1="161.00" x2="108.50" y2="161.00" stroke="#8c1c1c" stroke-width="1.6"/>
<line x1="108.50" y1="161.00" x2="177.00" y2="161.00" stroke="#5a1aa0" stroke-width="1.4"/>
<line x1="307.00" y1="161.00" x2="353.00" y2="161.00" stroke="#8c1c1c" stroke-width="1.6"/>
<line x1="353.00" y1="161.00" x2="425.00" y2="161.00" stroke="#1c3c8c" stroke-width="1.6"/>
<line x1="571.60" y1="151.10" x2="591.50" y2="151.10" stroke="#8c1c1c" stroke-width="1.6"/>
<line x1="624.00" y1="151.10" x2="642.70" y2="151.10" stroke="#1c3c8c" stroke-width="1.6"/>
<line x1="42.00" y1="349.20" x2="54.00" y2="349.20" stroke="#8c1c1c" stroke-width="1.6"/>
<line x1="126.80" y1="349.20" x2="177.70" y2="349.20" stroke="#1c3c8c" stroke-width="1.6"/>
<line x1="548.50" y1="345.60" x2="569.70" y2="345.60" stroke="#8c1c1c" stroke-width="1.6"/>
<line x1="607.00" y1="345.60" x2="633.00" y2="345.60" stroke="#1c3c8c" stroke-width="1.6"/>
<rect x="12.10" y="0.75" width="202.50" height="161.05" fill="none" stroke="#111" stroke-width="1.5"/>
<rect x="251.20" y="0.75" width="202.40" height="161.05" fill="none" stroke="#111" stroke-width="1.5"/>
<rect x="488.40" y="0.75" width="190.50" height="151.25" fill="none" stroke="#111" stroke-width="1.5"/>
<rect x="12.00" y="187.80" width="202.40" height="162.10" fill="none" stroke="#111" stroke-width="1.5"/>
<rect x="250.70" y="188.00" width="202.50" height="162.40" fill="none" stroke="#111" stroke-width="1.5"/>
<rect x="488.40" y="189.80" width="194.80" height="157.30" fill="none" stroke="#111" stroke-width="1.5"/>
<line x1="79.70" y1="161.05" x2="79.70" y2="158.80" stroke="#111" stroke-width="1"/>
<line x1="147.50" y1="161.05" x2="147.50" y2="158.80" stroke="#111" stroke-width="1"/>
<line x1="23.20" y1="161.05" x2="23.20" y2="159.60" stroke="#111" stroke-width="0.8"/>
<line x1="34.50" y1="161.05" x2="34.50" y2="159.60" stroke="#111" stroke-width="0.8"/>
<line x1="45.80" y1="161.05" x2="45.80" y2="159.60" stroke="#111" stroke-width="0.8"/>
<line x1="57.10" y1="161.05" x2="57.10" y2="159.60" stroke="#111" stroke-width="0.8"/>
<line x1="68.40" y1="161.05" x2="68.40" y2="159.60" stroke="#111" stroke-width="0.8"/>
<line x1="91.00" y1="161.05" x2="91.00" y2="159.60" stroke="#111" stroke-width="0.8"/>
<line x1="102.30" y1="161.05" x2="102.30" y2="159.60" stroke="#111" stroke-width="0.8"/>
<line x1="113.60" y1="161.05" x2="113.60" y2="159.60" stroke="#111" stroke-width="0.8"/>
<line x1="124.90" y1="161.05" x2="124.90" y2="159.60" stroke="#111" stroke-width="0.8"/>
<line x1="136.20" y1="161.05" x2="136.20" y2="159.60" stroke="#111" stroke-width="0.8"/>
<line x1="158.80" y1="161.05" x2="158.80" y2="159.60" stroke="#111" stroke-width="0.8"/>
<line x1="170.10" y1="161.05" x2="170.10" y2="159.60" stroke="#111" stroke-width="0.8"/>
<line x1="181.40" y1="161.05" x2="181.40" y2="159.60" stroke="#111" stroke-width="0.8"/>
<line x1="192.70" y1="161.05" x2="192.70" y2="159.60" stroke="#111" stroke-width="0.8"/>
<line x1="204.00" y1="161.05" x2="204.00" y2="159.60" stroke="#111" stroke-width="0.8"/>
<line x1="318.50" y1="161.05" x2="318.50" y2="158.80" stroke="#111" stroke-width="1"/>
<line x1="386.00" y1="161.05" x2="386.00" y2="158.80" stroke="#111" stroke-width="1"/>
<line x1="262.53" y1="161.05" x2="262.53" y2="159.60" stroke="#111" stroke-width="0.8"/>
<line x1="273.86" y1="161.05" x2="273.86" y2="159.60" stroke="#111" stroke-width="0.8"/>
<line x1="285.19" y1="161.05" x2="285.19" y2="159.60" stroke="#111" stroke-width="0.8"/>
<line x1="296.52" y1="161.05" x2="296.52" y2="159.60" stroke="#111" stroke-width="0.8"/>
<line x1="307.85" y1="161.05" x2="307.85" y2="159.60" stroke="#111" stroke-width="0.8"/>
<line x1="330.51" y1="161.05" x2="330.51" y2="159.60" stroke="#111" stroke-width="0.8"/>
<line x1="341.84" y1="161.05" x2="341.84" y2="159.60" stroke="#111" stroke-width="0.8"/>
<line x1="353.17" y1="161.05" x2="353.17" y2="159.60" stroke="#111" stroke-width="0.8"/>
<line x1="364.50" y1="161.05" x2="364.50" y2="159.60" stroke="#111" stroke-width="0.8"/>
<line x1="375.83" y1="161.05" x2="375.83" y2="159.60" stroke="#111" stroke-width="0.8"/>
<line x1="398.49" y1="161.05" x2="398.49" y2="159.60" stroke="#111" stroke-width="0.8"/>
<line x1="409.82" y1="161.05" x2="409.82" y2="159.60" stroke="#111" stroke-width="0.8"/>
<line x1="421.15" y1="161.05" x2="421.15" y2="159.60" stroke="#111" stroke-width="0.8"/>
<line x1="432.48" y1="161.05" x2="432.48" y2="159.60" stroke="#111" stroke-width="0.8"/>
<line x1="443.81" y1="161.05" x2="443.81" y2="159.60" stroke="#111" stroke-width="0.8"/>
<line x1="551.50" y1="151.25" x2="551.50" y2="149.00" stroke="#111" stroke-width="1"/>
<line x1="615.30" y1="151.25" x2="615.30" y2="149.00" stroke="#111" stroke-width="1"/>
<line x1="499.00" y1="151.25" x2="499.00" y2="149.80" stroke="#111" stroke-width="0.8"/>
<line x1="509.60" y1="151.25" x2="509.60" y2="149.80" stroke="#111" stroke-width="0.8"/>
<line x1="520.20" y1="151.25" x2="520.20" y2="149.80" stroke="#111" stroke-width="0.8"/>
<line x1="530.80" y1="151.25" x2="530.80" y2="149.80" stroke="#111" stroke-width="0.8"/>
<line x1="541.40" y1="151.25" x2="541.40" y2="149.80" stroke="#111" stroke-width="0.8"/>
<line x1="562.60" y1="151.25" x2="562.60" y2="149.80" stroke="#111" stroke-width="0.8"/>
<line x1="573.20" y1="151.25" x2="573.20" y2="149.80" stroke="#111" stroke-width="0.8"/>
<line x1="583.80" y1="151.25" x2="583.80" y2="149.80" stroke="#111" stroke-width="0.8"/>
<line x1="594.40" y1="151.25" x2="594.40" y2="149.80" stroke="#111" stroke-width="0.8"/>
<line x1="605.00" y1="151.25" x2="605.00" y2="149.80" stroke="#111" stroke-width="0.8"/>
<line x1="626.20" y1="151.25" x2="626.20" y2="149.80" stroke="#111" stroke-width="0.8"/>
<line x1="636.80" y1="151.25" x2="636.80" y2="149.80" stroke="#111" stroke-width="0.8"/>
<line x1="647.40" y1="151.25" x2="647.40" y2="149.80" stroke="#111" stroke-width="0.8"/>
<line x1="658.00" y1="151.25" x2="658.00" y2="149.80" stroke="#111" stroke-width="0.8"/>
<line x1="668.60" y1="151.25" x2="668.60" y2="149.80" stroke="#111" stroke-width="0.8"/>
<line x1="69.80" y1="349.15" x2="69.80" y2="346.90" stroke="#111" stroke-width="1"/>
<line x1="127.60" y1="349.15" x2="127.60" y2="346.90" stroke="#111" stroke-width="1"/>
<line x1="185.40" y1="349.15" x2="185.40" y2="346.90" stroke="#111" stroke-width="1"/>
<line x1="21.62" y1="349.15" x2="21.62" y2="347.70" stroke="#111" stroke-width="0.8"/>
<line x1="31.25" y1="349.15" x2="31.25" y2="347.70" stroke="#111" stroke-width="0.8"/>
<line x1="40.88" y1="349.15" x2="40.88" y2="347.70" stroke="#111" stroke-width="0.8"/>
<line x1="50.50" y1="349.15" x2="50.50" y2="347.70" stroke="#111" stroke-width="0.8"/>
<line x1="60.12" y1="349.15" x2="60.12" y2="347.70" stroke="#111" stroke-width="0.8"/>
<line x1="79.38" y1="349.15" x2="79.38" y2="347.70" stroke="#111" stroke-width="0.8"/>
<line x1="89.00" y1="349.15" x2="89.00" y2="347.70" stroke="#111" stroke-width="0.8"/>
<line x1="98.62" y1="349.15" x2="98.62" y2="347.70" stroke="#111" stroke-width="0.8"/>
<line x1="108.25" y1="349.15" x2="108.25" y2="347.70" stroke="#111" stroke-width="0.8"/>
<line x1="117.88" y1="349.15" x2="117.88" y2="347.70" stroke="#111" stroke-width="0.8"/>
<line x1="137.12" y1="349.15" x2="137.12" y2="347.70" stroke="#111" stroke-width="0.8"/>
<line x1="146.75" y1="349.15" x2="146.75" y2="347.70" stroke="#111" stroke-width="0.8"/>
<line x1="156.38" y1="349.15" x2="156.38" y2="347.70" stroke="#111" stroke-width="0.8"/>
<line x1="166.00" y1="349.15" x2="166.00" y2="347.70" stroke="#111" stroke-width="0.8"/>
<line x1="175.62" y1="349.15" x2="175.62" y2="347.70" stroke="#111" stroke-width="0.8"/>
<line x1="194.88" y1="349.15" x2="194.88" y2="347.70" stroke="#111" stroke-width="0.8"/>
<line x1="204.50" y1="349.15" x2="204.50" y2="347.70" stroke="#111" stroke-width="0.8"/>
<line x1="308.50" y1="349.65" x2="308.50" y2="347.40" stroke="#111" stroke-width="1"/>
<line x1="366.50" y1="349.65" x2="366.50" y2="347.40" stroke="#111" stroke-width="1"/>
<line x1="424.20" y1="349.65" x2="424.20" y2="347.40" stroke="#111" stroke-width="1"/>
<line x1="260.33" y1="349.65" x2="260.33" y2="348.20" stroke="#111" stroke-width="0.8"/>
<line x1="269.96" y1="349.65" x2="269.96" y2="348.20" stroke="#111" stroke-width="0.8"/>
<line x1="279.59" y1="349.65" x2="279.59" y2="348.20" stroke="#111" stroke-width="0.8"/>
<line x1="289.22" y1="349.65" x2="289.22" y2="348.20" stroke="#111" stroke-width="0.8"/>
<line x1="298.85" y1="349.65" x2="298.85" y2="348.20" stroke="#111" stroke-width="0.8"/>
<line x1="318.11" y1="349.65" x2="318.11" y2="348.20" stroke="#111" stroke-width="0.8"/>
<line x1="327.74" y1="349.65" x2="327.74" y2="348.20" stroke="#111" stroke-width="0.8"/>
<line x1="337.37" y1="349.65" x2="337.37" y2="348.20" stroke="#111" stroke-width="0.8"/>
<line x1="347.00" y1="349.65" x2="347.00" y2="348.20" stroke="#111" stroke-width="0.8"/>
<line x1="356.63" y1="349.65" x2="356.63" y2="348.20" stroke="#111" stroke-width="0.8"/>
<line x1="375.89" y1="349.65" x2="375.89" y2="348.20" stroke="#111" stroke-width="0.8"/>
<line x1="385.52" y1="349.65" x2="385.52" y2="348.20" stroke="#111" stroke-width="0.8"/>
<line x1="395.15" y1="349.65" x2="395.15" y2="348.20" stroke="#111" stroke-width="0.8"/>
<line x1="404.78" y1="349.65" x2="404.78" y2="348.20" stroke="#111" stroke-width="0.8"/>
<line x1="414.41" y1="349.65" x2="414.41" y2="348.20" stroke="#111" stroke-width="0.8"/>
<line x1="433.67" y1="349.65" x2="433.67" y2="348.20" stroke="#111" stroke-width="0.8"/>
<line x1="443.30" y1="349.65" x2="443.30" y2="348.20" stroke="#111" stroke-width="0.8"/>
<line x1="545.00" y1="346.35" x2="545.00" y2="344.10" stroke="#111" stroke-width="1"/>
<line x1="601.20" y1="346.35" x2="601.20" y2="344.10" stroke="#111" stroke-width="1"/>
<line x1="656.40" y1="346.35" x2="656.40" y2="344.10" stroke="#111" stroke-width="1"/>
<line x1="497.75" y1="346.35" x2="497.75" y2="344.90" stroke="#111" stroke-width="0.8"/>
<line x1="507.10" y1="346.35" x2="507.10" y2="344.90" stroke="#111" stroke-width="0.8"/>
<line x1="516.45" y1="346.35" x2="516.45" y2="344.90" stroke="#111" stroke-width="0.8"/>
<line x1="525.80" y1="346.35" x2="525.80" y2="344.90" stroke="#111" stroke-width="0.8"/>
<line x1="535.15" y1="346.35" x2="535.15" y2="344.90" stroke="#111" stroke-width="0.8"/>
<line x1="553.85" y1="346.35" x2="553.85" y2="344.90" stroke="#111" stroke-width="0.8"/>
<line x1="563.20" y1="346.35" x2="563.20" y2="344.90" stroke="#111" stroke-width="0.8"/>
<line x1="572.55" y1="346.35" x2="572.55" y2="344.90" stroke="#111" stroke-width="0.8"/>
<line x1="581.90" y1="346.35" x2="581.90" y2="344.90" stroke="#111" stroke-width="0.8"/>
<line x1="591.25" y1="346.35" x2="591.25" y2="344.90" stroke="#111" stroke-width="0.8"/>
<line x1="609.95" y1="346.35" x2="609.95" y2="344.90" stroke="#111" stroke-width="0.8"/>
<line x1="619.30" y1="346.35" x2="619.30" y2="344.90" stroke="#111" stroke-width="0.8"/>
<line x1="628.65" y1="346.35" x2="628.65" y2="344.90" stroke="#111" stroke-width="0.8"/>
<line x1="638.00" y1="346.35" x2="638.00" y2="344.90" stroke="#111" stroke-width="0.8"/>
<line x1="647.35" y1="346.35" x2="647.35" y2="344.90" stroke="#111" stroke-width="0.8"/>
<line x1="666.05" y1="346.35" x2="666.05" y2="344.90" stroke="#111" stroke-width="0.8"/>
<line x1="675.40" y1="346.35" x2="675.40" y2="344.90" stroke="#111" stroke-width="0.8"/>
<text x="13.10" y="8.80" font-size="8.4" font-weight="bold" textLength="37.80" lengthAdjust="spacingAndGlyphs">PS+Cu(II)</text>
<text x="198.00" y="9.10" font-size="8.6" font-weight="bold" textLength="16.00" lengthAdjust="spacingAndGlyphs">C 1s</text>
<text x="18.10" y="35.20" font-size="16.8" font-weight="normal" textLength="18.30" lengthAdjust="spacingAndGlyphs">(a)</text>
<text x="118.00" y="31.90" font-size="7.6" font-weight="bold" textLength="28.00" lengthAdjust="spacingAndGlyphs">C-(C-H)</text>
<text x="106.00" y="141.20" font-size="7.7" font-weight="bold" textLength="22.00" lengthAdjust="spacingAndGlyphs">C-O-C</text>
<text x="67.60" y="156.50" font-size="7.9" font-weight="bold" textLength="30.90" lengthAdjust="spacingAndGlyphs">HO-C=O</text>
<text x="11.85" y="172.10" font-size="8.8" font-weight="bold" text-anchor="middle">295</text>
<text x="79.70" y="172.10" font-size="8.8" font-weight="bold" text-anchor="middle">290</text>
<text x="147.55" y="172.10" font-size="8.8" font-weight="bold" text-anchor="middle">285</text>
<text x="215.20" y="172.10" font-size="8.8" font-weight="bold" text-anchor="middle">280</text>
<text x="0" y="0" transform="translate(76.10,182.30) scale(0.9,1)" font-size="9.4" font-weight="bold" textLength="92.11" lengthAdjust="spacing">Binding Energy (eV)</text>
<text x="252.00" y="8.90" font-size="8.4" font-weight="bold" textLength="52.80" lengthAdjust="spacingAndGlyphs">UV-PS+Cu(II)</text>
<text x="436.90" y="9.10" font-size="8.6" font-weight="bold" textLength="15.80" lengthAdjust="spacingAndGlyphs">C 1s</text>
<text x="258.10" y="35.20" font-size="16.8" font-weight="normal" textLength="18.70" lengthAdjust="spacingAndGlyphs">(b)</text>
<text x="394.50" y="17.50" font-size="7.6" font-weight="bold" textLength="26.50" lengthAdjust="spacingAndGlyphs">C-(C-H)</text>
<text x="313.50" y="150.10" font-size="7.9" font-weight="bold" textLength="30.80" lengthAdjust="spacingAndGlyphs">HO-C=O</text>
<text x="251.00" y="172.20" font-size="8.8" font-weight="bold" text-anchor="middle">295</text>
<text x="317.95" y="172.20" font-size="8.8" font-weight="bold" text-anchor="middle">290</text>
<text x="385.85" y="172.20" font-size="8.8" font-weight="bold" text-anchor="middle">285</text>
<text x="453.80" y="172.20" font-size="8.8" font-weight="bold" text-anchor="middle">280</text>
<text x="0" y="0" transform="translate(314.90,182.20) scale(0.9,1)" font-size="9.4" font-weight="bold" textLength="91.44" lengthAdjust="spacing">Binding Energy (eV)</text>
<text x="490.20" y="9.00" font-size="8.0" font-weight="bold" textLength="46.80" lengthAdjust="spacingAndGlyphs">O<tspan font-size="5.5" dy="1.5">3</tspan><tspan dy="-1.5">-PS+Cu(II)</tspan></text>
<text x="662.40" y="8.80" font-size="8.2" font-weight="bold" textLength="15.30" lengthAdjust="spacingAndGlyphs">C 1s</text>
<text x="498.10" y="35.20" font-size="16.8" font-weight="normal" textLength="18.10" lengthAdjust="spacingAndGlyphs" stroke="#111" stroke-width="0.28">(c)</text>
<text x="580.70" y="26.00" font-size="7.6" font-weight="bold" textLength="14.90" lengthAdjust="spacingAndGlyphs">C=O</text>
<text x="622.30" y="126.00" font-size="7.3" font-weight="bold" textLength="26.00" lengthAdjust="spacingAndGlyphs">C-(C-H)</text>
<text x="487.60" y="161.50" font-size="8.2" font-weight="bold" text-anchor="middle">295</text>
<text x="551.25" y="161.50" font-size="8.2" font-weight="bold" text-anchor="middle">290</text>
<text x="614.90" y="161.50" font-size="8.2" font-weight="bold" text-anchor="middle">285</text>
<text x="679.00" y="161.50" font-size="8.2" font-weight="bold" text-anchor="middle">280</text>
<text x="0" y="0" transform="translate(548.40,170.30) scale(0.9,1)" font-size="8.7" font-weight="bold" textLength="85.56" lengthAdjust="spacing">Binding Energy (eV)</text>
<text x="13.30" y="196.00" font-size="8.4" font-weight="bold" textLength="37.90" lengthAdjust="spacingAndGlyphs">PS+Cu(II)</text>
<text x="196.60" y="197.10" font-size="8.6" font-weight="bold" textLength="17.40" lengthAdjust="spacingAndGlyphs">O 1s</text>
<text x="18.10" y="219.90" font-size="16.8" font-weight="normal" textLength="18.70" lengthAdjust="spacingAndGlyphs">(d)</text>
<text x="68.50" y="209.00" font-size="7.7" font-weight="bold" textLength="15.70" lengthAdjust="spacingAndGlyphs">C=O</text>
<text x="126.30" y="249.80" font-size="7.6" font-weight="bold" textLength="22.60" lengthAdjust="spacingAndGlyphs">C-O-C</text>
<text x="126.30" y="260.00" font-size="7.6" font-weight="bold" textLength="22.60" lengthAdjust="spacingAndGlyphs">C-O-H</text>
<text x="11.90" y="360.60" font-size="8.8" font-weight="bold" text-anchor="middle">540</text>
<text x="69.85" y="360.60" font-size="8.8" font-weight="bold" text-anchor="middle">536</text>
<text x="127.60" y="360.60" font-size="8.8" font-weight="bold" text-anchor="middle">532</text>
<text x="185.30" y="360.60" font-size="8.8" font-weight="bold" text-anchor="middle">528</text>
<text x="0" y="0" transform="translate(76.10,369.90) scale(0.9,1)" font-size="9.3" font-weight="bold" textLength="90.67" lengthAdjust="spacing">Binding Energy (eV)</text>
<text x="251.80" y="196.00" font-size="8.4" font-weight="bold" textLength="52.70" lengthAdjust="spacingAndGlyphs">UV-PS+Cu(II)</text>
<text x="435.20" y="197.40" font-size="8.6" font-weight="bold" textLength="17.50" lengthAdjust="spacingAndGlyphs">O 1s</text>
<text x="258.10" y="220.00" font-size="16.8" font-weight="normal" textLength="18.10" lengthAdjust="spacingAndGlyphs">(e)</text>
<text x="340.20" y="204.90" font-size="7.7" font-weight="bold" textLength="15.90" lengthAdjust="spacingAndGlyphs">C=O</text>
<text x="392.40" y="264.60" font-size="7.5" font-weight="bold" textLength="21.60" lengthAdjust="spacingAndGlyphs">C-O-C</text>
<text x="392.40" y="275.90" font-size="7.5" font-weight="bold" textLength="21.60" lengthAdjust="spacingAndGlyphs">C-O-H</text>
<text x="250.45" y="360.70" font-size="8.8" font-weight="bold" text-anchor="middle">540</text>
<text x="308.15" y="360.70" font-size="8.8" font-weight="bold" text-anchor="middle">536</text>
<text x="366.30" y="360.70" font-size="8.8" font-weight="bold" text-anchor="middle">532</text>
<text x="424.20" y="360.70" font-size="8.8" font-weight="bold" text-anchor="middle">528</text>
<text x="0" y="0" transform="translate(314.80,369.30) scale(0.9,1)" font-size="9.3" font-weight="bold" textLength="91.00" lengthAdjust="spacing">Binding Energy (eV)</text>
<text x="489.80" y="197.80" font-size="8.0" font-weight="bold" textLength="48.60" lengthAdjust="spacingAndGlyphs">O<tspan font-size="5.5" dy="1.5">3</tspan><tspan dy="-1.5">-PS+Cu(II)</tspan></text>
<text x="667.50" y="199.30" font-size="8.2" font-weight="bold" textLength="14.80" lengthAdjust="spacingAndGlyphs">O 1s</text>
<text x="492.60" y="220.00" font-size="16.8" font-weight="normal" textLength="15.80" lengthAdjust="spacingAndGlyphs">(f)</text>
<text x="581.50" y="207.30" font-size="7.7" font-weight="bold" textLength="16.10" lengthAdjust="spacingAndGlyphs">C=O</text>
<text x="609.60" y="290.50" font-size="7.3" font-weight="bold" textLength="21.30" lengthAdjust="spacingAndGlyphs">C-O-C</text>
<text x="609.60" y="301.20" font-size="7.3" font-weight="bold" textLength="21.30" lengthAdjust="spacingAndGlyphs">C-O-H</text>
<text x="488.15" y="356.90" font-size="8.6" font-weight="bold" text-anchor="middle">540</text>
<text x="544.25" y="356.90" font-size="8.6" font-weight="bold" text-anchor="middle">536</text>
<text x="601.40" y="356.90" font-size="8.6" font-weight="bold" text-anchor="middle">532</text>
<text x="656.45" y="356.90" font-size="8.6" font-weight="bold" text-anchor="middle">528</text>
<text x="0" y="0" transform="translate(550.50,365.20) scale(0.9,1)" font-size="9.0" font-weight="bold" textLength="88.78" lengthAdjust="spacing">Binding Energy (eV)</text>
<text x="0" y="0" font-size="8.4" font-weight="bold" text-anchor="middle" textLength="57.0" lengthAdjust="spacingAndGlyphs" transform="translate(7.62,81.40) rotate(-90)">Intensity (a.u.)</text>
<text x="0" y="0" font-size="8.4" font-weight="bold" text-anchor="middle" textLength="57.0" lengthAdjust="spacingAndGlyphs" transform="translate(244.92,81.40) rotate(-90)">Intensity (a.u.)</text>
<text x="0" y="0" font-size="8.0" font-weight="bold" text-anchor="middle" textLength="54.4" lengthAdjust="spacingAndGlyphs" transform="translate(482.67,75.40) rotate(-90)">Intensity (a.u.)</text>
<text x="0" y="0" font-size="8.4" font-weight="bold" text-anchor="middle" textLength="59.2" lengthAdjust="spacingAndGlyphs" transform="translate(7.42,268.40) rotate(-90)">Intensity (a.u.)</text>
<text x="0" y="0" font-size="8.4" font-weight="bold" text-anchor="middle" textLength="58.0" lengthAdjust="spacingAndGlyphs" transform="translate(245.02,268.40) rotate(-90)">Intensity (a.u.)</text>
<text x="0" y="0" font-size="8.4" font-weight="bold" text-anchor="middle" textLength="57.0" lengthAdjust="spacingAndGlyphs" transform="translate(484.02,267.50) rotate(-90)">Intensity (a.u.)</text>
</svg></body></html>
